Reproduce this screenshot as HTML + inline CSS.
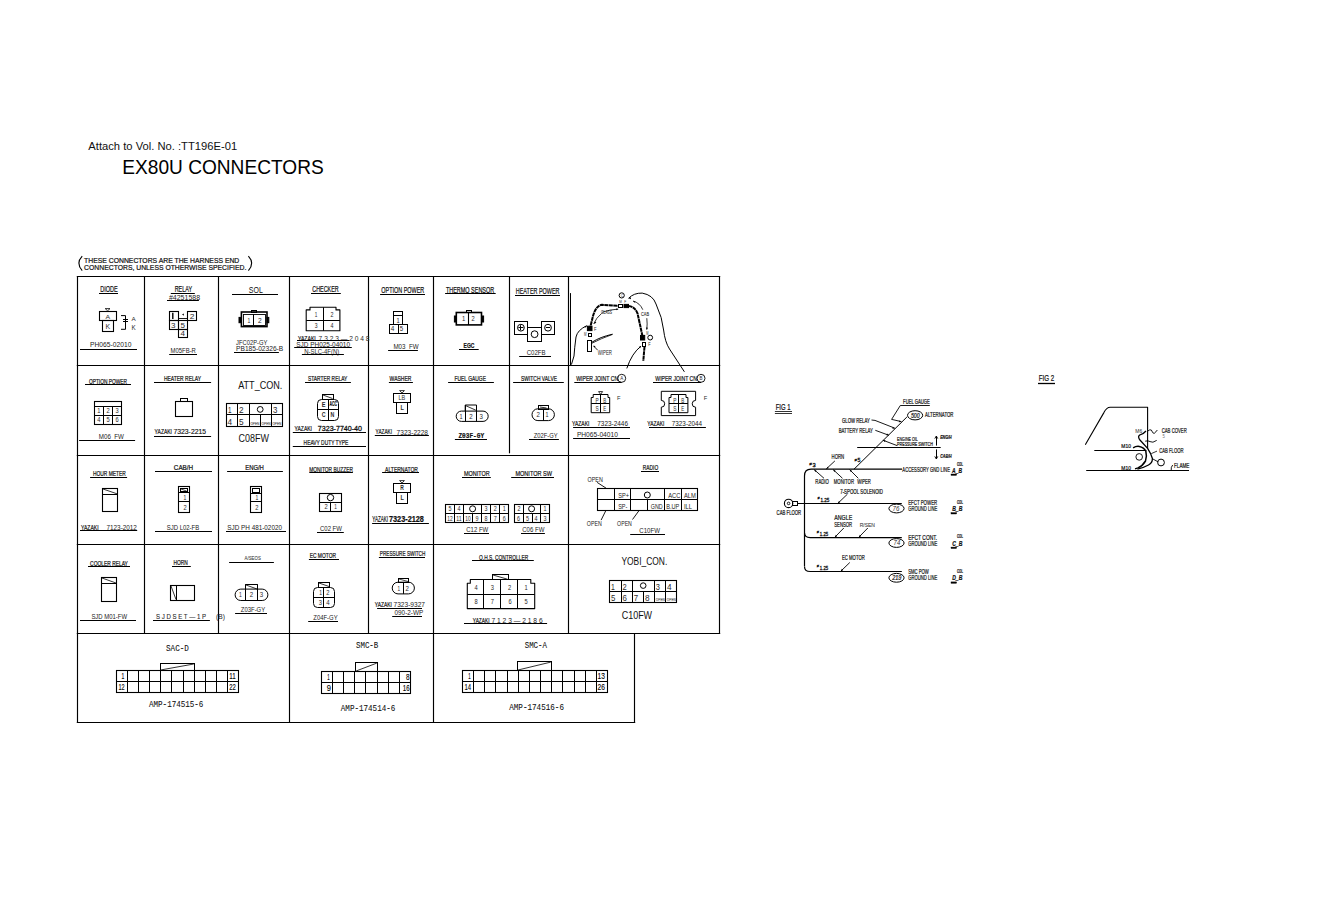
<!DOCTYPE html>
<html><head><meta charset="utf-8"><style>
html,body{margin:0;padding:0;background:#fff;width:1323px;height:917px;overflow:hidden}
svg{display:block}
</style></head><body>
<svg width="1323" height="917" viewBox="0 0 1323 917">
<rect x="0" y="0" width="1323" height="917" fill="#fff"/>
<text x="88.3" y="150.2" font-family="Liberation Sans" font-size="11.77" font-weight="normal" font-style="normal" fill="#111" textLength="148.9" lengthAdjust="spacingAndGlyphs">Attach to Vol. No. :TT196E-01</text>
<text x="122.3" y="174.4" font-family="Liberation Sans" font-size="19.62" font-weight="normal" font-style="normal" fill="#000" textLength="201.4" lengthAdjust="spacingAndGlyphs">EX80U CONNECTORS</text>
<text x="84.1" y="263.3" font-family="Liberation Sans" font-size="7.70" font-weight="normal" font-style="normal" fill="#111" stroke="#111" stroke-width="0.22" textLength="155.2" lengthAdjust="spacingAndGlyphs">THESE CONNECTORS ARE THE HARNESS END</text>
<text x="84.1" y="270.1" font-family="Liberation Sans" font-size="7.99" font-weight="normal" font-style="normal" fill="#111" stroke="#111" stroke-width="0.22" textLength="162.2" lengthAdjust="spacingAndGlyphs">CONNECTORS, UNLESS OTHERWISE SPECIFIED.</text>
<path d="M82.2,256.2 Q75.5,263.4 82.2,270.6" stroke="#000" stroke-width="1.1" fill="none" stroke-linejoin="round" />
<path d="M248.4,256.2 Q255,263.4 248.4,270.6" stroke="#000" stroke-width="1.1" fill="none" stroke-linejoin="round" />
<line x1="76.8" y1="276.5" x2="720.2" y2="276.5" stroke="#000" stroke-width="1.15"/>
<line x1="76.8" y1="365.5" x2="720.2" y2="365.5" stroke="#000" stroke-width="1.15"/>
<line x1="76.8" y1="455.5" x2="720.2" y2="455.5" stroke="#000" stroke-width="1.15"/>
<line x1="76.8" y1="544.5" x2="720.2" y2="544.5" stroke="#000" stroke-width="1.15"/>
<line x1="76.8" y1="633.5" x2="720.2" y2="633.5" stroke="#000" stroke-width="1.15"/>
<line x1="76.8" y1="722.5" x2="635.2" y2="722.5" stroke="#000" stroke-width="1.15"/>
<line x1="77.5" y1="276.5" x2="77.5" y2="722.5" stroke="#000" stroke-width="1.15"/>
<line x1="719.5" y1="276.5" x2="719.5" y2="633.5" stroke="#000" stroke-width="1.15"/>
<line x1="144.5" y1="276.5" x2="144.5" y2="633.5" stroke="#000" stroke-width="1.15"/>
<line x1="218.5" y1="276.5" x2="218.5" y2="633.5" stroke="#000" stroke-width="1.15"/>
<line x1="289.5" y1="276.5" x2="289.5" y2="633.5" stroke="#000" stroke-width="1.15"/>
<line x1="368.5" y1="276.5" x2="368.5" y2="633.5" stroke="#000" stroke-width="1.15"/>
<line x1="433.5" y1="276.5" x2="433.5" y2="633.5" stroke="#000" stroke-width="1.15"/>
<line x1="509.5" y1="276.5" x2="509.5" y2="365.5" stroke="#000" stroke-width="1.15"/>
<line x1="509.5" y1="365.5" x2="509.5" y2="453.3" stroke="#000" stroke-width="1.15"/>
<line x1="568.5" y1="276.5" x2="568.5" y2="633.5" stroke="#000" stroke-width="1.15"/>
<line x1="289.5" y1="633.5" x2="289.5" y2="722.5" stroke="#000" stroke-width="1.15"/>
<line x1="433.5" y1="633.5" x2="433.5" y2="722.5" stroke="#000" stroke-width="1.15"/>
<line x1="634.5" y1="633.5" x2="634.5" y2="722.5" stroke="#000" stroke-width="1.15"/>
<text x="100.2" y="292" font-family="Liberation Sans" font-size="8.72" font-weight="normal" font-style="normal" fill="#111" stroke="#111" stroke-width="0.22" textLength="17.6" lengthAdjust="spacingAndGlyphs">DIODE</text>
<line x1="99" y1="293.5" x2="118" y2="293.5" stroke="#000" stroke-width="1.0"/>
<rect x="99.5" y="311.5" width="17.0" height="9.0" stroke="#000" stroke-width="1.1" fill="none"/>
<rect x="102.5" y="320.5" width="11.0" height="11.0" stroke="#000" stroke-width="1.1" fill="none"/>
<path d="M105.2,308.6 L110,308.6 L107.6,310.8 Z" stroke="#000" stroke-width="0.8" fill="none" stroke-linejoin="round" />
<text x="105.6" y="319.2" font-family="Liberation Sans" font-size="6.25" font-weight="normal" font-style="normal" fill="#2a2a2a" textLength="4.6" lengthAdjust="spacingAndGlyphs">A</text>
<text x="105.6" y="328.8" font-family="Liberation Sans" font-size="6.54" font-weight="normal" font-style="normal" fill="#2a2a2a" textLength="4.6" lengthAdjust="spacingAndGlyphs">K</text>
<path d="M121,315.6 H125.5 V329.3 H121" stroke="#000" stroke-width="1.0" fill="none" stroke-linejoin="round" />
<line x1="123" y1="319.5" x2="128" y2="319.5" stroke="#000" stroke-width="1.0"/>
<line x1="123" y1="321.5" x2="128" y2="321.5" stroke="#000" stroke-width="1.0"/>
<text x="131.4" y="320.8" font-family="Liberation Sans" font-size="6.25" font-weight="normal" font-style="normal" fill="#2a2a2a" textLength="4.2" lengthAdjust="spacingAndGlyphs">A</text>
<text x="131.4" y="330" font-family="Liberation Sans" font-size="6.54" font-weight="normal" font-style="normal" fill="#2a2a2a" textLength="4.2" lengthAdjust="spacingAndGlyphs">K</text>
<text x="90" y="347.2" font-family="Liberation Sans" font-size="7.12" font-weight="normal" font-style="normal" fill="#222" textLength="41.4" lengthAdjust="spacingAndGlyphs">PH065-02010</text>
<line x1="80" y1="349.5" x2="137" y2="349.5" stroke="#000" stroke-width="1.0"/>
<text x="174.7" y="292" font-family="Liberation Sans" font-size="8.72" font-weight="normal" font-style="normal" fill="#111" stroke="#111" stroke-width="0.22" textLength="17.4" lengthAdjust="spacingAndGlyphs">RELAY</text>
<line x1="170.8" y1="293.5" x2="194.8" y2="293.5" stroke="#000" stroke-width="1.0"/>
<text x="168.9" y="299.6" font-family="Liberation Sans" font-size="6.83" font-weight="normal" font-style="normal" fill="#222" textLength="31.2" lengthAdjust="spacingAndGlyphs">#4251588</text>
<line x1="167" y1="300.5" x2="198.9" y2="300.5" stroke="#000" stroke-width="1.0"/>
<rect x="169.5" y="311.5" width="9.0" height="9.0" stroke="#000" stroke-width="1.1" fill="none"/>
<rect x="187.5" y="311.5" width="9.0" height="9.0" stroke="#000" stroke-width="1.1" fill="none"/>
<line x1="178.3" y1="318.5" x2="187.6" y2="318.5" stroke="#000" stroke-width="0.9"/>
<line x1="182" y1="314.5" x2="184" y2="314.5" stroke="#000" stroke-width="0.6"/>
<line x1="183.5" y1="313.6" x2="183.5" y2="315.6" stroke="#000" stroke-width="0.6"/>
<rect x="169.5" y="320.5" width="9.0" height="9.0" stroke="#000" stroke-width="1.1" fill="none"/>
<rect x="178.5" y="320.5" width="9.0" height="9.0" stroke="#000" stroke-width="1.1" fill="none"/>
<rect x="178.5" y="329.5" width="9.0" height="8.0" stroke="#000" stroke-width="1.1" fill="none"/>
<line x1="172.8" y1="312.8" x2="172.8" y2="319" stroke="#000" stroke-width="1.4"/>
<text x="189.8" y="318.6" font-family="Liberation Sans" font-size="7.70" font-weight="normal" font-style="normal" fill="#2a2a2a" textLength="4.7" lengthAdjust="spacingAndGlyphs">2</text>
<text x="171" y="327.6" font-family="Liberation Sans" font-size="7.70" font-weight="normal" font-style="normal" fill="#2a2a2a" textLength="4.5" lengthAdjust="spacingAndGlyphs">3</text>
<text x="180.5" y="327.6" font-family="Liberation Sans" font-size="7.70" font-weight="normal" font-style="normal" fill="#2a2a2a" textLength="4.5" lengthAdjust="spacingAndGlyphs">5</text>
<text x="180.5" y="336" font-family="Liberation Sans" font-size="7.70" font-weight="normal" font-style="normal" fill="#2a2a2a" textLength="4.5" lengthAdjust="spacingAndGlyphs">4</text>
<text x="170.6" y="353.0" font-family="Liberation Sans" font-size="6.98" font-weight="normal" font-style="normal" fill="#222" textLength="25.3" lengthAdjust="spacingAndGlyphs">M05FB-R</text>
<line x1="169.2" y1="354.5" x2="197" y2="354.5" stroke="#000" stroke-width="1.0"/>
<text x="248.8" y="292.8" font-family="Liberation Sans" font-size="9.16" font-weight="normal" font-style="normal" fill="#111" textLength="14.0" lengthAdjust="spacingAndGlyphs">SOL</text>
<line x1="232" y1="294.5" x2="278" y2="294.5" stroke="#000" stroke-width="1.0"/>
<rect x="241.4" y="312" width="25.6" height="14.6" stroke="#000" stroke-width="1.6" fill="none"/>
<rect x="243.5" y="314.5" width="22.0" height="11.0" stroke="#000" stroke-width="0.9" fill="none"/>
<line x1="253.5" y1="314.2" x2="253.5" y2="325" stroke="#000" stroke-width="1.0"/>
<rect x="239" y="317.4" width="2.4" height="5.3" stroke="#000" stroke-width="1.0" fill="#000"/>
<rect x="267" y="317.4" width="1.8" height="5.3" stroke="#000" stroke-width="1.0" fill="#000"/>
<rect x="251.5" y="310.5" width="5.0" height="2.0" stroke="#000" stroke-width="1.0" fill="none"/>
<text x="247.4" y="322.6" font-family="Liberation Sans" font-size="7.12" font-weight="normal" font-style="normal" fill="#2a2a2a" textLength="2.8" lengthAdjust="spacingAndGlyphs">1</text>
<text x="257.9" y="322.6" font-family="Liberation Sans" font-size="7.12" font-weight="normal" font-style="normal" fill="#2a2a2a" textLength="3.7" lengthAdjust="spacingAndGlyphs">2</text>
<text x="236.1" y="345.2" font-family="Liberation Sans" font-size="7.12" font-weight="normal" font-style="normal" fill="#222" textLength="31.2" lengthAdjust="spacingAndGlyphs">JFC02P-GY</text>
<text x="236.1" y="351.0" font-family="Liberation Sans" font-size="7.27" font-weight="normal" font-style="normal" fill="#222" textLength="47.1" lengthAdjust="spacingAndGlyphs">PB185-02326-B</text>
<line x1="234" y1="352.5" x2="278.9" y2="352.5" stroke="#000" stroke-width="1.0"/>
<text x="312.3" y="291.9" font-family="Liberation Sans" font-size="8.58" font-weight="normal" font-style="normal" fill="#111" stroke="#111" stroke-width="0.22" textLength="26.4" lengthAdjust="spacingAndGlyphs">CHECKER</text>
<line x1="311" y1="293.5" x2="340.8" y2="293.5" stroke="#000" stroke-width="1.0"/>
<path d="M310,307.3 H336 V309.9 H339.9 V330.8 H306.2 V309.9 H310 Z" stroke="#000" stroke-width="1.1" fill="none" stroke-linejoin="round" />
<line x1="306.2" y1="320.5" x2="339.9" y2="320.5" stroke="#000" stroke-width="1.0"/>
<line x1="323.5" y1="307.3" x2="323.5" y2="330.8" stroke="#000" stroke-width="1.0"/>
<text x="314.8" y="317.4" font-family="Liberation Sans" font-size="6.54" font-weight="normal" font-style="normal" fill="#2a2a2a" textLength="2.6" lengthAdjust="spacingAndGlyphs">1</text>
<text x="330.4" y="317.4" font-family="Liberation Sans" font-size="6.54" font-weight="normal" font-style="normal" fill="#2a2a2a" textLength="3.0" lengthAdjust="spacingAndGlyphs">2</text>
<text x="314.8" y="328.2" font-family="Liberation Sans" font-size="6.54" font-weight="normal" font-style="normal" fill="#2a2a2a" textLength="2.8" lengthAdjust="spacingAndGlyphs">3</text>
<text x="330.4" y="328.2" font-family="Liberation Sans" font-size="6.54" font-weight="normal" font-style="normal" fill="#2a2a2a" textLength="3.0" lengthAdjust="spacingAndGlyphs">4</text>
<text x="297.9" y="340.6" font-family="Liberation Sans" font-size="7.12" font-weight="normal" font-style="normal" fill="#111" stroke="#111" stroke-width="0.22" textLength="17.9" lengthAdjust="spacingAndGlyphs">YAZAKI</text>
<text x="318.6" y="340.6" font-family="Liberation Sans" font-size="7.12" font-weight="normal" font-style="normal" fill="#2a2a2a" textLength="50.9" lengthAdjust="spacingAndGlyphs">7 3 2 3 — 2 0 4 8</text>
<line x1="297" y1="340.5" x2="349.5" y2="340.5" stroke="#000" stroke-width="1.0"/>
<text x="296.2" y="347.4" font-family="Liberation Sans" font-size="6.98" font-weight="normal" font-style="normal" fill="#222" textLength="53.8" lengthAdjust="spacingAndGlyphs">SJD PH025-04010</text>
<line x1="294.2" y1="347.5" x2="351.8" y2="347.5" stroke="#000" stroke-width="1.0"/>
<text x="304.2" y="354.2" font-family="Liberation Sans" font-size="7.27" font-weight="normal" font-style="normal" fill="#222" textLength="35.1" lengthAdjust="spacingAndGlyphs">N-SLC-4F(N)</text>
<line x1="301.9" y1="354.5" x2="343.9" y2="354.5" stroke="#000" stroke-width="1.0"/>
<text x="381.3" y="293" font-family="Liberation Sans" font-size="8.72" font-weight="normal" font-style="normal" fill="#111" stroke="#111" stroke-width="0.22" textLength="42.9" lengthAdjust="spacingAndGlyphs">OPTION POWER</text>
<line x1="380.1" y1="294.5" x2="425" y2="294.5" stroke="#000" stroke-width="1.0"/>
<rect x="393.5" y="311.5" width="9.0" height="4.0" stroke="#000" stroke-width="1.0" fill="none"/>
<rect x="393.5" y="315.5" width="9.0" height="9.0" stroke="#000" stroke-width="1.0" fill="none"/>
<rect x="389.5" y="324.5" width="18.0" height="9.0" stroke="#000" stroke-width="1.0" fill="none"/>
<line x1="398.5" y1="324.4" x2="398.5" y2="333.4" stroke="#000" stroke-width="1.0"/>
<text x="396.4" y="322.6" font-family="Liberation Sans" font-size="7.12" font-weight="normal" font-style="normal" fill="#2a2a2a" textLength="3.2" lengthAdjust="spacingAndGlyphs">1</text>
<text x="390.8" y="331.2" font-family="Liberation Sans" font-size="6.83" font-weight="normal" font-style="normal" fill="#2a2a2a" textLength="3.6" lengthAdjust="spacingAndGlyphs">4</text>
<text x="399.8" y="331.2" font-family="Liberation Sans" font-size="6.83" font-weight="normal" font-style="normal" fill="#2a2a2a" textLength="3.4" lengthAdjust="spacingAndGlyphs">5</text>
<text x="393.4" y="348.6" font-family="Liberation Sans" font-size="7.12" font-weight="normal" font-style="normal" fill="#222" textLength="25.2" lengthAdjust="spacingAndGlyphs">M03_FW</text>
<line x1="388.1" y1="350.5" x2="417.9" y2="350.5" stroke="#000" stroke-width="1.0"/>
<text x="445.9" y="292.6" font-family="Liberation Sans" font-size="8.14" font-weight="normal" font-style="normal" fill="#111" stroke="#111" stroke-width="0.22" textLength="48.3" lengthAdjust="spacingAndGlyphs">THERMO SENSOR</text>
<line x1="445.1" y1="293.5" x2="495.7" y2="293.5" stroke="#000" stroke-width="1.0"/>
<rect x="456.3" y="312.5" width="25.2" height="12.4" stroke="#000" stroke-width="1.6" fill="none"/>
<line x1="468.5" y1="312.5" x2="468.5" y2="325" stroke="#000" stroke-width="1.1"/>
<rect x="454.4" y="316" width="2" height="6" stroke="#000" stroke-width="1.0" fill="#000"/>
<rect x="481.6" y="316" width="2" height="6" stroke="#000" stroke-width="1.0" fill="#000"/>
<rect x="466.5" y="310.5" width="5.0" height="2.0" stroke="#000" stroke-width="1.0" fill="none"/>
<text x="462" y="320.6" font-family="Liberation Sans" font-size="7.41" font-weight="normal" font-style="normal" fill="#2a2a2a" textLength="3.3" lengthAdjust="spacingAndGlyphs">1</text>
<text x="471.4" y="320.6" font-family="Liberation Sans" font-size="7.41" font-weight="normal" font-style="normal" fill="#2a2a2a" textLength="3.2" lengthAdjust="spacingAndGlyphs">2</text>
<text x="463.6" y="347.9" font-family="Liberation Sans" font-size="7.70" font-weight="bold" font-style="normal" fill="#111" stroke="#111" stroke-width="0.22" textLength="10.8" lengthAdjust="spacingAndGlyphs">EGC</text>
<line x1="459" y1="349.5" x2="478.7" y2="349.5" stroke="#000" stroke-width="1.0"/>
<text x="515.8" y="293.7" font-family="Liberation Sans" font-size="8.72" font-weight="normal" font-style="normal" fill="#111" stroke="#111" stroke-width="0.22" textLength="43.7" lengthAdjust="spacingAndGlyphs">HEATER POWER</text>
<line x1="515" y1="295.5" x2="560" y2="295.5" stroke="#000" stroke-width="1.0"/>
<rect x="514.5" y="321.5" width="13.0" height="13.0" stroke="#000" stroke-width="1.0" fill="none"/>
<rect x="527.5" y="327.5" width="14.0" height="14.0" stroke="#000" stroke-width="1.0" fill="none"/>
<rect x="541.5" y="321.5" width="13.0" height="13.0" stroke="#000" stroke-width="1.0" fill="none"/>
<circle cx="520.9" cy="327.7" r="3.4" stroke="#000" stroke-width="1.0" fill="none"/>
<line x1="518.4" y1="327.5" x2="523.4" y2="327.5" stroke="#000" stroke-width="1.0"/>
<line x1="520.5" y1="325.2" x2="520.5" y2="330.2" stroke="#000" stroke-width="1.0"/>
<circle cx="534.6" cy="334.2" r="3.4" stroke="#000" stroke-width="1.0" fill="none"/>
<circle cx="548" cy="327.7" r="3.4" stroke="#000" stroke-width="1.0" fill="none"/>
<line x1="545.8" y1="327.5" x2="550.2" y2="327.5" stroke="#000" stroke-width="1.0"/>
<text x="526.7" y="355.4" font-family="Liberation Sans" font-size="7.12" font-weight="normal" font-style="normal" fill="#222" textLength="18.9" lengthAdjust="spacingAndGlyphs">C02FB</text>
<line x1="519.2" y1="356.5" x2="551" y2="356.5" stroke="#000" stroke-width="1.0"/>
<line x1="570.5" y1="293.1" x2="570.5" y2="365" stroke="#000" stroke-width="1.0"/>
<path d="M589.7,329.6 L593,316 Q596,305.5 602,304.8 L618.2,305.9" stroke="#000" stroke-width="2.0" fill="none" stroke-linejoin="round" stroke-dasharray="4,0.5"/>
<path d="M628.5,305.9 Q635,306.5 637.6,313.7 L642.8,337.6" stroke="#000" stroke-width="2.0" fill="none" stroke-linejoin="round" stroke-dasharray="4,0.5"/>
<path d="M644.5,346.8 L643.3,361" stroke="#000" stroke-width="2.0" fill="none" stroke-linejoin="round" stroke-dasharray="4,0.5"/>
<path d="M628.50,298.30 L630.86,297.20 L630.94,299.20 Z" fill="#000"/>
<path d="M594.20,324.00 L594.77,321.46 L596.40,322.62 Z" fill="#000"/>
<path d="M618.40,309.00 L616.37,310.23 L616.09,308.45 Z" fill="#000"/>
<path d="M633.00,301.20 L635.38,301.18 L634.71,302.85 Z" fill="#000"/>
<path d="M646.80,329.80 L645.91,327.55 L647.91,327.65 Z" fill="#000"/>
<path d="M586.80,325.70 L585.68,327.84 L584.45,326.26 Z" fill="#000"/>
<path d="M641.20,346.20 L640.01,348.31 L638.83,346.69 Z" fill="#000"/>
<path d="M593.40,345.60 L595.52,346.17 L594.38,347.56 Z" fill="#000"/>
<path d="M592,343.2 Q601,338.5 612.5,334.4" stroke="#000" stroke-width="0.8" fill="none" stroke-linejoin="round" />
<rect x="618.5" y="304.5" width="4.0" height="3.0" stroke="#000" stroke-width="1.0" fill="none"/>
<rect x="624" y="304.4" width="4.5" height="3.2" stroke="#000" stroke-width="1.0" fill="#000"/>
<circle cx="621.7" cy="295.4" r="2.6" stroke="#000" stroke-width="1.0" fill="none"/>
<text x="620.7" y="296.8" font-family="Liberation Sans" font-size="4.22" font-weight="normal" font-style="normal" fill="#2a2a2a" textLength="2.2" lengthAdjust="spacingAndGlyphs">C</text>
<text x="619.2" y="303" font-family="Liberation Sans" font-size="4.36" font-weight="normal" font-style="normal" fill="#2a2a2a" textLength="2.6" lengthAdjust="spacingAndGlyphs">M</text>
<text x="624.2" y="303" font-family="Liberation Sans" font-size="4.36" font-weight="normal" font-style="normal" fill="#2a2a2a" textLength="2.0" lengthAdjust="spacingAndGlyphs">F</text>
<rect x="587.4" y="326.2" width="4.6" height="4.4" stroke="#000" stroke-width="1.0" fill="#000"/>
<rect x="588.5" y="333.5" width="3.0" height="3.0" stroke="#000" stroke-width="1.0" fill="none"/>
<rect x="587.5" y="340.5" width="4.0" height="11.0" stroke="#000" stroke-width="1.0" fill="none"/>
<text x="594" y="330.5" font-family="Liberation Sans" font-size="5.52" font-weight="normal" font-style="normal" fill="#2a2a2a" textLength="2.5" lengthAdjust="spacingAndGlyphs">F</text>
<text x="584" y="336.2" font-family="Liberation Sans" font-size="4.80" font-weight="normal" font-style="normal" fill="#2a2a2a" textLength="2.5" lengthAdjust="spacingAndGlyphs">M</text>
<path d="M592,342.2 Q600,337 612.5,334.2" stroke="#000" stroke-width="1.0" fill="none" stroke-linejoin="round" />
<text x="597.7" y="354.8" font-family="Liberation Sans" font-size="6.83" font-weight="normal" font-style="normal" fill="#222" textLength="14.3" lengthAdjust="spacingAndGlyphs">WIPER</text>
<path d="M597.5,350 L593.6,346" stroke="#000" stroke-width="0.9" fill="none" stroke-linejoin="round" />
<text x="601" y="314.2" font-family="Liberation Sans" font-size="5.38" font-weight="normal" font-style="normal" fill="#2a2a2a" stroke="#2a2a2a" stroke-width="0.1" textLength="11.0" lengthAdjust="spacingAndGlyphs">GLASS</text>
<path d="M602.2,312.2 Q610,309.5 618.2,309.1" stroke="#000" stroke-width="0.8" fill="none" stroke-linejoin="round" />
<path d="M601.5,313.5 Q596,318 593.7,324" stroke="#000" stroke-width="0.8" fill="none" stroke-linejoin="round" />
<text x="641" y="316.2" font-family="Liberation Sans" font-size="5.81" font-weight="normal" font-style="normal" fill="#2a2a2a" stroke="#2a2a2a" stroke-width="0.1" textLength="8.0" lengthAdjust="spacingAndGlyphs">CAB</text>
<path d="M642.8,309.7 Q640,303 633,301" stroke="#000" stroke-width="0.8" fill="none" stroke-linejoin="round" />
<path d="M646.8,318.2 Q647.5,324 646.8,329.6" stroke="#000" stroke-width="0.8" fill="none" stroke-linejoin="round" />
<rect x="640.5" y="335.4" width="4.2" height="4.6" stroke="#000" stroke-width="1.0" fill="#000"/>
<rect x="642.5" y="342.5" width="3.0" height="4.0" stroke="#000" stroke-width="1.0" fill="none"/>
<circle cx="650.2" cy="337.6" r="2.4" stroke="#000" stroke-width="1.0" fill="none"/>
<text x="646.2" y="335.4" font-family="Liberation Sans" font-size="4.65" font-weight="normal" font-style="normal" fill="#2a2a2a" textLength="2.2" lengthAdjust="spacingAndGlyphs">M</text>
<text x="648.2" y="346.2" font-family="Liberation Sans" font-size="5.67" font-weight="normal" font-style="normal" fill="#2a2a2a" textLength="2.4" lengthAdjust="spacingAndGlyphs">F</text>
<path d="M628.5,298.3 Q634,292.8 642.2,293.1 Q653,295 656,304 Q662.5,318 663.6,330 Q665,342 669.5,349 L684.4,371.8" stroke="#000" stroke-width="1.0" fill="none" stroke-linejoin="round" />
<path d="M586.8,325.7 Q577.5,330 576,337 Q574.5,348 574,356 L571.4,364.6" stroke="#000" stroke-width="1.0" fill="none" stroke-linejoin="round" />
<path d="M626.8,368.4 Q632,353 641,346.2" stroke="#000" stroke-width="1.0" fill="none" stroke-linejoin="round" />
<text x="88.9" y="384" font-family="Liberation Sans" font-size="7.41" font-weight="normal" font-style="normal" fill="#111" stroke="#111" stroke-width="0.22" textLength="38.2" lengthAdjust="spacingAndGlyphs">OPTION POWER</text>
<line x1="85" y1="384.5" x2="131" y2="384.5" stroke="#000" stroke-width="1.0"/>
<rect x="94.5" y="401.5" width="27.0" height="23.0" stroke="#000" stroke-width="1.1" fill="none"/>
<line x1="94.3" y1="406.5" x2="121.8" y2="406.5" stroke="#000" stroke-width="1.0"/>
<line x1="94.3" y1="415.5" x2="121.8" y2="415.5" stroke="#000" stroke-width="1.0"/>
<line x1="103.5" y1="406.6" x2="103.5" y2="424.5" stroke="#000" stroke-width="1.0"/>
<line x1="112.5" y1="406.6" x2="112.5" y2="424.5" stroke="#000" stroke-width="1.0"/>
<text x="97.2" y="413.4" font-family="Liberation Sans" font-size="6.98" font-weight="normal" font-style="normal" fill="#2a2a2a" textLength="3.2" lengthAdjust="spacingAndGlyphs">1</text>
<text x="106.4" y="413.4" font-family="Liberation Sans" font-size="6.98" font-weight="normal" font-style="normal" fill="#2a2a2a" textLength="3.2" lengthAdjust="spacingAndGlyphs">2</text>
<text x="115.6" y="413.4" font-family="Liberation Sans" font-size="6.98" font-weight="normal" font-style="normal" fill="#2a2a2a" textLength="3.2" lengthAdjust="spacingAndGlyphs">3</text>
<text x="97.2" y="422.2" font-family="Liberation Sans" font-size="7.12" font-weight="normal" font-style="normal" fill="#2a2a2a" textLength="3.2" lengthAdjust="spacingAndGlyphs">4</text>
<text x="106.4" y="422.2" font-family="Liberation Sans" font-size="7.12" font-weight="normal" font-style="normal" fill="#2a2a2a" textLength="3.2" lengthAdjust="spacingAndGlyphs">5</text>
<text x="115.6" y="422.2" font-family="Liberation Sans" font-size="7.12" font-weight="normal" font-style="normal" fill="#2a2a2a" textLength="3.2" lengthAdjust="spacingAndGlyphs">6</text>
<text x="98.8" y="438.6" font-family="Liberation Sans" font-size="6.83" font-weight="normal" font-style="normal" fill="#222" textLength="25.1" lengthAdjust="spacingAndGlyphs">M06_FW</text>
<line x1="79.1" y1="440.5" x2="135.1" y2="440.5" stroke="#000" stroke-width="1.0"/>
<text x="163.9" y="381" font-family="Liberation Sans" font-size="7.12" font-weight="normal" font-style="normal" fill="#111" stroke="#111" stroke-width="0.22" textLength="37.1" lengthAdjust="spacingAndGlyphs">HEATER RELAY</text>
<line x1="154" y1="382.5" x2="211.1" y2="382.5" stroke="#000" stroke-width="1.0"/>
<rect x="175.5" y="401.5" width="17.0" height="15.0" stroke="#000" stroke-width="1.1" fill="none"/>
<rect x="180.5" y="398.5" width="7.0" height="3.0" stroke="#000" stroke-width="1.0" fill="none"/>
<text x="154.6" y="434.3" font-family="Liberation Sans" font-size="7.85" font-weight="normal" font-style="normal" fill="#111" stroke="#111" stroke-width="0.22" textLength="17.4" lengthAdjust="spacingAndGlyphs">YAZAKI</text>
<text x="173.5" y="434.3" font-family="Liberation Sans" font-size="7.85" font-weight="normal" font-style="normal" fill="#111" stroke="#111" stroke-width="0.15" textLength="32.5" lengthAdjust="spacingAndGlyphs">7323-2215</text>
<line x1="154" y1="436.5" x2="211.1" y2="436.5" stroke="#000" stroke-width="1.0"/>
<text x="238.2" y="389" font-family="Liberation Sans" font-size="10.32" font-weight="normal" font-style="normal" fill="#111" textLength="44.2" lengthAdjust="spacingAndGlyphs">ATT_CON.</text>
<rect x="226.5" y="403.5" width="56.0" height="23.0" stroke="#000" stroke-width="1.1" fill="none"/>
<line x1="226.2" y1="414.5" x2="282.6" y2="414.5" stroke="#000" stroke-width="1.0"/>
<line x1="237.5" y1="403.3" x2="237.5" y2="426.6" stroke="#000" stroke-width="1.0"/>
<line x1="249.5" y1="403.3" x2="249.5" y2="426.6" stroke="#000" stroke-width="1.0"/>
<line x1="271.5" y1="403.3" x2="271.5" y2="426.6" stroke="#000" stroke-width="1.0"/>
<line x1="260.5" y1="414.5" x2="260.5" y2="426.6" stroke="#000" stroke-width="1.0"/>
<text x="227.9" y="413.2" font-family="Liberation Sans" font-size="9.74" font-weight="normal" font-style="normal" fill="#2a2a2a" textLength="3.5" lengthAdjust="spacingAndGlyphs">1</text>
<text x="239" y="413.2" font-family="Liberation Sans" font-size="9.74" font-weight="normal" font-style="normal" fill="#2a2a2a" textLength="4.6" lengthAdjust="spacingAndGlyphs">2</text>
<text x="273" y="413.2" font-family="Liberation Sans" font-size="9.74" font-weight="normal" font-style="normal" fill="#2a2a2a" textLength="4.4" lengthAdjust="spacingAndGlyphs">3</text>
<text x="227.6" y="424.6" font-family="Liberation Sans" font-size="9.74" font-weight="normal" font-style="normal" fill="#2a2a2a" textLength="4.6" lengthAdjust="spacingAndGlyphs">4</text>
<text x="239" y="424.6" font-family="Liberation Sans" font-size="9.74" font-weight="normal" font-style="normal" fill="#2a2a2a" textLength="4.6" lengthAdjust="spacingAndGlyphs">5</text>
<circle cx="260.2" cy="409.4" r="2.9" stroke="#000" stroke-width="1.0" fill="none"/>
<text x="250.4" y="424.8" font-family="Liberation Sans" font-size="4.22" font-weight="normal" font-style="normal" fill="#444" stroke="#444" stroke-width="0.1" textLength="9.0" lengthAdjust="spacingAndGlyphs">OPEN</text>
<text x="261.6" y="424.8" font-family="Liberation Sans" font-size="4.22" font-weight="normal" font-style="normal" fill="#444" stroke="#444" stroke-width="0.1" textLength="9.0" lengthAdjust="spacingAndGlyphs">OPEN</text>
<text x="272.4" y="424.8" font-family="Liberation Sans" font-size="4.22" font-weight="normal" font-style="normal" fill="#444" stroke="#444" stroke-width="0.1" textLength="9.0" lengthAdjust="spacingAndGlyphs">OPEN</text>
<text x="238.6" y="442.1" font-family="Liberation Sans" font-size="10.03" font-weight="normal" font-style="normal" fill="#111" textLength="30.4" lengthAdjust="spacingAndGlyphs">C08FW</text>
<text x="307.9" y="380.9" font-family="Liberation Sans" font-size="7.12" font-weight="normal" font-style="normal" fill="#111" stroke="#111" stroke-width="0.22" textLength="39.4" lengthAdjust="spacingAndGlyphs">STARTER RELAY</text>
<line x1="305" y1="382.5" x2="350.9" y2="382.5" stroke="#000" stroke-width="1.0"/>
<rect x="317.5" y="399.5" width="21.0" height="21.0" stroke="#000" stroke-width="1.0" fill="none" rx="4"/>
<rect x="322.5" y="394.5" width="11.0" height="5.0" stroke="#000" stroke-width="1.0" fill="none"/>
<line x1="323" y1="395" x2="332.5" y2="398.5" stroke="#000" stroke-width="0.8"/>
<line x1="328.5" y1="399" x2="328.5" y2="420" stroke="#000" stroke-width="1.0"/>
<line x1="317.8" y1="409.5" x2="338.7" y2="409.5" stroke="#000" stroke-width="1.0"/>
<text x="321.8" y="406.6" font-family="Liberation Sans" font-size="7.70" font-weight="bold" font-style="normal" fill="#2a2a2a" textLength="3.8" lengthAdjust="spacingAndGlyphs">E</text>
<text x="329.6" y="406.4" font-family="Liberation Sans" font-size="6.54" font-weight="bold" font-style="normal" fill="#111" stroke="#111" stroke-width="0.22" textLength="7.4" lengthAdjust="spacingAndGlyphs">ACC</text>
<text x="321.8" y="416.6" font-family="Liberation Sans" font-size="7.70" font-weight="bold" font-style="normal" fill="#2a2a2a" textLength="3.8" lengthAdjust="spacingAndGlyphs">C</text>
<text x="330.6" y="416.6" font-family="Liberation Sans" font-size="7.70" font-weight="bold" font-style="normal" fill="#2a2a2a" textLength="3.8" lengthAdjust="spacingAndGlyphs">N</text>
<text x="294.5" y="430.8" font-family="Liberation Sans" font-size="7.56" font-weight="normal" font-style="normal" fill="#111" stroke="#111" stroke-width="0.22" textLength="17.5" lengthAdjust="spacingAndGlyphs">YAZAKI</text>
<text x="317.8" y="430.8" font-family="Liberation Sans" font-size="7.85" font-weight="normal" font-style="normal" fill="#111" stroke="#111" stroke-width="0.3" textLength="44.2" lengthAdjust="spacingAndGlyphs">7323-7740-40</text>
<line x1="292.8" y1="432.5" x2="366" y2="432.5" stroke="#000" stroke-width="1.0"/>
<text x="303.6" y="444.9" font-family="Liberation Sans" font-size="7.56" font-weight="normal" font-style="normal" fill="#111" stroke="#111" stroke-width="0.22" textLength="44.8" lengthAdjust="spacingAndGlyphs">HEAVY DUTY TYPE</text>
<line x1="292.8" y1="446.5" x2="366" y2="446.5" stroke="#000" stroke-width="1.0"/>
<text x="389.6" y="380.9" font-family="Liberation Sans" font-size="6.83" font-weight="normal" font-style="normal" fill="#111" stroke="#111" stroke-width="0.22" textLength="21.8" lengthAdjust="spacingAndGlyphs">WASHER</text>
<line x1="388.9" y1="382.5" x2="412.9" y2="382.5" stroke="#000" stroke-width="1.0"/>
<rect x="393.5" y="393.5" width="17.0" height="9.0" stroke="#000" stroke-width="1.0" fill="none"/>
<rect x="396.5" y="402.5" width="11.0" height="11.0" stroke="#000" stroke-width="1.0" fill="none"/>
<path d="M399.6,390.6 L404.4,390.6 L402.0,393.1 Z" stroke="#000" stroke-width="0.8" fill="none" stroke-linejoin="round" />
<text x="398.4" y="400.4" font-family="Liberation Sans" font-size="7.12" font-weight="normal" font-style="normal" fill="#2a2a2a" textLength="6.8" lengthAdjust="spacingAndGlyphs">LB</text>
<text x="400.4" y="410.2" font-family="Liberation Sans" font-size="7.12" font-weight="bold" font-style="normal" fill="#2a2a2a" textLength="3.4" lengthAdjust="spacingAndGlyphs">L</text>
<text x="375.6" y="434.4" font-family="Liberation Sans" font-size="7.99" font-weight="normal" font-style="normal" fill="#111" stroke="#111" stroke-width="0.22" textLength="16.4" lengthAdjust="spacingAndGlyphs">YAZAKI</text>
<text x="396.6" y="435" font-family="Liberation Sans" font-size="7.70" font-weight="normal" font-style="normal" fill="#222" textLength="31.4" lengthAdjust="spacingAndGlyphs">7323-2228</text>
<line x1="374.8" y1="435.5" x2="428.9" y2="435.5" stroke="#000" stroke-width="1.0"/>
<text x="454.6" y="380.9" font-family="Liberation Sans" font-size="7.27" font-weight="normal" font-style="normal" fill="#111" stroke="#111" stroke-width="0.22" textLength="31.3" lengthAdjust="spacingAndGlyphs">FUEL GAUGE</text>
<line x1="448.1" y1="382.5" x2="493.9" y2="382.5" stroke="#000" stroke-width="1.0"/>
<path d="M461.34999999999997,411.1 L483.05,411.1 A5.149999999999977,5.149999999999977 0 0 1 483.05,421.4 L461.34999999999997,421.4 A5.149999999999977,5.149999999999977 0 0 1 461.34999999999997,411.1 Z" stroke="#000" stroke-width="1.0" fill="none" stroke-linejoin="round" />
<line x1="465.5" y1="405" x2="465.5" y2="421.4" stroke="#000" stroke-width="1.0"/>
<line x1="476.5" y1="405" x2="476.5" y2="421.4" stroke="#000" stroke-width="1.0"/>
<path d="M465.2,411.1 V405 H476.5 V411.1" stroke="#000" stroke-width="1.0" fill="none" stroke-linejoin="round" />
<line x1="466" y1="405.8" x2="475.8" y2="410.2" stroke="#000" stroke-width="0.8"/>
<text x="459.5" y="418.8" font-family="Liberation Sans" font-size="7.41" font-weight="normal" font-style="normal" fill="#2a2a2a" textLength="3.1" lengthAdjust="spacingAndGlyphs">1</text>
<text x="469.2" y="418.8" font-family="Liberation Sans" font-size="7.41" font-weight="normal" font-style="normal" fill="#2a2a2a" textLength="3.4" lengthAdjust="spacingAndGlyphs">2</text>
<text x="479.4" y="418.8" font-family="Liberation Sans" font-size="7.41" font-weight="normal" font-style="normal" fill="#2a2a2a" textLength="3.4" lengthAdjust="spacingAndGlyphs">3</text>
<text x="458.4" y="437.6" font-family="Liberation Mono" font-size="7.99" font-weight="bold" font-style="normal" fill="#111" stroke="#111" stroke-width="0.22" textLength="25.7" lengthAdjust="spacingAndGlyphs">Z03F-GY</text>
<line x1="454.9" y1="439.5" x2="487" y2="439.5" stroke="#000" stroke-width="1.0"/>
<text x="521" y="380.9" font-family="Liberation Sans" font-size="7.27" font-weight="normal" font-style="normal" fill="#111" stroke="#111" stroke-width="0.22" textLength="36.0" lengthAdjust="spacingAndGlyphs">SWITCH VALVE</text>
<line x1="513.1" y1="382.5" x2="563.8" y2="382.5" stroke="#000" stroke-width="1.0"/>
<path d="M537.9,408.8 L548.5,408.8 A5.900000000000006,5.900000000000006 0 0 1 548.5,420.6 L537.9,420.6 A5.900000000000006,5.900000000000006 0 0 1 537.9,408.8 Z" stroke="#000" stroke-width="1.0" fill="none" stroke-linejoin="round" />
<rect x="538.5" y="405.5" width="10.0" height="4.0" stroke="#000" stroke-width="1.0" fill="none"/>
<line x1="543.5" y1="409" x2="543.5" y2="420.6" stroke="#000" stroke-width="1.0"/>
<line x1="540" y1="407" x2="546.5" y2="408" stroke="#000" stroke-width="0.8"/>
<text x="536.6" y="417.4" font-family="Liberation Sans" font-size="7.99" font-weight="normal" font-style="normal" fill="#2a2a2a" textLength="3.4" lengthAdjust="spacingAndGlyphs">2</text>
<text x="545.6" y="417.4" font-family="Liberation Sans" font-size="7.99" font-weight="normal" font-style="normal" fill="#2a2a2a" textLength="3.0" lengthAdjust="spacingAndGlyphs">1</text>
<text x="533.8" y="438.4" font-family="Liberation Sans" font-size="6.83" font-weight="normal" font-style="normal" fill="#222" textLength="23.9" lengthAdjust="spacingAndGlyphs">Z02F-GY</text>
<line x1="529" y1="439.5" x2="558.9" y2="439.5" stroke="#000" stroke-width="1.0"/>
<text x="576.2" y="381" font-family="Liberation Sans" font-size="7.70" font-weight="normal" font-style="normal" fill="#111" stroke="#111" stroke-width="0.22" textLength="42.0" lengthAdjust="spacingAndGlyphs">WIPER JOINT CN</text>
<circle cx="621.7" cy="378.3" r="4.0" stroke="#000" stroke-width="0.9" fill="none"/>
<text x="620.3" y="379.8" font-family="Liberation Sans" font-size="5.23" font-weight="normal" font-style="normal" fill="#2a2a2a" textLength="3.0" lengthAdjust="spacingAndGlyphs">A</text>
<line x1="574.3" y1="382.5" x2="621.7" y2="382.5" stroke="#000" stroke-width="1.0"/>
<path d="M593.2,394.5 H608 V397.5 H609.7 V412.7 H591.2 V397.5 H593.2 Z" stroke="#000" stroke-width="1.0" fill="none" stroke-linejoin="round" />
<line x1="591.2" y1="403.5" x2="609.7" y2="403.5" stroke="#000" stroke-width="1.0"/>
<line x1="600.5" y1="394.5" x2="600.5" y2="412.7" stroke="#000" stroke-width="1.0"/>
<path d="M598.6,391.6 L602.6,391.6 L600.6,394.4 Z" stroke="#000" stroke-width="0.8" fill="none" stroke-linejoin="round" />
<text x="595.4" y="402.6" font-family="Liberation Sans" font-size="6.83" font-weight="normal" font-style="normal" fill="#2a2a2a" textLength="3.2" lengthAdjust="spacingAndGlyphs">P</text>
<text x="603.2" y="402.6" font-family="Liberation Sans" font-size="6.83" font-weight="normal" font-style="normal" fill="#2a2a2a" textLength="3.0" lengthAdjust="spacingAndGlyphs">B</text>
<text x="595.4" y="411.2" font-family="Liberation Sans" font-size="7.41" font-weight="normal" font-style="normal" fill="#2a2a2a" textLength="3.2" lengthAdjust="spacingAndGlyphs">S</text>
<text x="603.2" y="411.2" font-family="Liberation Sans" font-size="7.41" font-weight="normal" font-style="normal" fill="#2a2a2a" textLength="3.0" lengthAdjust="spacingAndGlyphs">E</text>
<text x="617" y="399.8" font-family="Liberation Sans" font-size="6.25" font-weight="normal" font-style="normal" fill="#2a2a2a" textLength="3.5" lengthAdjust="spacingAndGlyphs">F</text>
<text x="572" y="425.6" font-family="Liberation Sans" font-size="7.70" font-weight="normal" font-style="normal" fill="#111" stroke="#111" stroke-width="0.22" textLength="17.4" lengthAdjust="spacingAndGlyphs">YAZAKI</text>
<text x="597.3" y="425.5" font-family="Liberation Sans" font-size="7.85" font-weight="normal" font-style="normal" fill="#222" textLength="30.7" lengthAdjust="spacingAndGlyphs">7323-2446</text>
<line x1="573.1" y1="427.5" x2="630" y2="427.5" stroke="#000" stroke-width="1.0"/>
<text x="576.9" y="436.7" font-family="Liberation Sans" font-size="7.56" font-weight="normal" font-style="normal" fill="#222" textLength="41.0" lengthAdjust="spacingAndGlyphs">PH065-04010</text>
<line x1="573.1" y1="438.5" x2="630" y2="438.5" stroke="#000" stroke-width="1.0"/>
<text x="655.3" y="381" font-family="Liberation Sans" font-size="7.70" font-weight="normal" font-style="normal" fill="#111" stroke="#111" stroke-width="0.22" textLength="41.7" lengthAdjust="spacingAndGlyphs">WIPER JOINT CN</text>
<circle cx="701" cy="378.3" r="4.0" stroke="#000" stroke-width="0.9" fill="none"/>
<text x="699.6" y="379.8" font-family="Liberation Sans" font-size="5.23" font-weight="normal" font-style="normal" fill="#2a2a2a" textLength="3.0" lengthAdjust="spacingAndGlyphs">B</text>
<line x1="653" y1="382.5" x2="701" y2="382.5" stroke="#000" stroke-width="1.0"/>
<path d="M661.3,391.3 H695.6 V400.4 A3.4,3.4 0 0 0 695.6,407.2 V415.6 H661.3 V407.2 A3.4,3.4 0 0 0 661.3,400.4 Z" stroke="#000" stroke-width="1.0" fill="none" stroke-linejoin="round" />
<path d="M671,394.5 H686 V397.5 H687.9 V412.7 H669 V397.5 H671 Z" stroke="#000" stroke-width="1.0" fill="none" stroke-linejoin="round" />
<line x1="669" y1="403.5" x2="687.9" y2="403.5" stroke="#000" stroke-width="1.0"/>
<line x1="678.5" y1="394.5" x2="678.5" y2="412.7" stroke="#000" stroke-width="1.0"/>
<text x="673.2" y="402.6" font-family="Liberation Sans" font-size="6.83" font-weight="normal" font-style="normal" fill="#2a2a2a" textLength="3.2" lengthAdjust="spacingAndGlyphs">P</text>
<text x="681.2" y="402.6" font-family="Liberation Sans" font-size="6.83" font-weight="normal" font-style="normal" fill="#2a2a2a" textLength="3.0" lengthAdjust="spacingAndGlyphs">B</text>
<text x="673.2" y="411.2" font-family="Liberation Sans" font-size="7.41" font-weight="normal" font-style="normal" fill="#2a2a2a" textLength="3.2" lengthAdjust="spacingAndGlyphs">S</text>
<text x="681.2" y="411.2" font-family="Liberation Sans" font-size="7.41" font-weight="normal" font-style="normal" fill="#2a2a2a" textLength="3.0" lengthAdjust="spacingAndGlyphs">E</text>
<text x="703.8" y="399.8" font-family="Liberation Sans" font-size="6.25" font-weight="normal" font-style="normal" fill="#2a2a2a" textLength="3.5" lengthAdjust="spacingAndGlyphs">F</text>
<text x="647.3" y="426" font-family="Liberation Sans" font-size="7.70" font-weight="normal" font-style="normal" fill="#111" stroke="#111" stroke-width="0.22" textLength="17.1" lengthAdjust="spacingAndGlyphs">YAZAKI</text>
<text x="671.8" y="426" font-family="Liberation Sans" font-size="7.70" font-weight="normal" font-style="normal" fill="#222" textLength="30.3" lengthAdjust="spacingAndGlyphs">7323-2044</text>
<line x1="649" y1="427.5" x2="705.9" y2="427.5" stroke="#000" stroke-width="1.0"/>
<text x="93" y="476.1" font-family="Liberation Sans" font-size="7.56" font-weight="normal" font-style="normal" fill="#111" stroke="#111" stroke-width="0.22" textLength="32.8" lengthAdjust="spacingAndGlyphs">HOUR METER</text>
<line x1="90.1" y1="477.5" x2="127.1" y2="477.5" stroke="#000" stroke-width="1.0"/>
<rect x="102.5" y="488.5" width="15.0" height="23.0" stroke="#000" stroke-width="1.1" fill="none"/>
<line x1="102.3" y1="494.5" x2="117.7" y2="494.5" stroke="#000" stroke-width="1.0"/>
<line x1="103" y1="489" x2="117" y2="493.8" stroke="#000" stroke-width="0.8"/>
<text x="81" y="530.1" font-family="Liberation Sans" font-size="7.85" font-weight="normal" font-style="normal" fill="#111" stroke="#111" stroke-width="0.22" textLength="17.6" lengthAdjust="spacingAndGlyphs">YAZAKI</text>
<text x="106.5" y="530.1" font-family="Liberation Sans" font-size="7.85" font-weight="normal" font-style="normal" fill="#222" textLength="30.4" lengthAdjust="spacingAndGlyphs">7123-2012</text>
<line x1="80" y1="530.5" x2="137.2" y2="530.5" stroke="#000" stroke-width="1.0"/>
<text x="173.8" y="469.9" font-family="Liberation Sans" font-size="7.12" font-weight="normal" font-style="normal" fill="#111" stroke="#111" stroke-width="0.22" textLength="19.4" lengthAdjust="spacingAndGlyphs">CAB/H</text>
<line x1="155" y1="471.5" x2="212" y2="471.5" stroke="#000" stroke-width="1.0"/>
<rect x="178.5" y="486.5" width="11.0" height="26.0" stroke="#000" stroke-width="1.1" fill="none"/>
<rect x="180.5" y="488.5" width="7.0" height="3.0" stroke="#000" stroke-width="1.0" fill="none"/>
<line x1="181" y1="489" x2="186.5" y2="491" stroke="#000" stroke-width="0.7"/>
<line x1="178.2" y1="492.5" x2="189.7" y2="492.5" stroke="#000" stroke-width="1.0"/>
<line x1="178.2" y1="501.5" x2="189.7" y2="501.5" stroke="#000" stroke-width="1.0"/>
<text x="183.4" y="499.6" font-family="Liberation Sans" font-size="6.83" font-weight="normal" font-style="normal" fill="#2a2a2a" textLength="2.8" lengthAdjust="spacingAndGlyphs">1</text>
<text x="183.4" y="509.6" font-family="Liberation Sans" font-size="7.70" font-weight="normal" font-style="normal" fill="#2a2a2a" textLength="3.2" lengthAdjust="spacingAndGlyphs">2</text>
<text x="166.8" y="529.6" font-family="Liberation Sans" font-size="7.12" font-weight="normal" font-style="normal" fill="#222" textLength="32.4" lengthAdjust="spacingAndGlyphs">SJD L02-FB</text>
<line x1="155" y1="531.5" x2="212" y2="531.5" stroke="#000" stroke-width="1.0"/>
<text x="245.2" y="470.1" font-family="Liberation Sans" font-size="7.27" font-weight="normal" font-style="normal" fill="#111" stroke="#111" stroke-width="0.22" textLength="18.7" lengthAdjust="spacingAndGlyphs">ENG/H</text>
<line x1="227.1" y1="471.5" x2="282.9" y2="471.5" stroke="#000" stroke-width="1.0"/>
<rect x="250.5" y="486.5" width="11.0" height="26.0" stroke="#000" stroke-width="1.1" fill="none"/>
<rect x="252.5" y="488.5" width="7.0" height="4.0" stroke="#000" stroke-width="1.0" fill="none"/>
<line x1="250.3" y1="493.5" x2="261.7" y2="493.5" stroke="#000" stroke-width="1.0"/>
<line x1="250.3" y1="501.5" x2="261.7" y2="501.5" stroke="#000" stroke-width="1.0"/>
<text x="255.4" y="500.4" font-family="Liberation Sans" font-size="6.83" font-weight="normal" font-style="normal" fill="#2a2a2a" textLength="2.8" lengthAdjust="spacingAndGlyphs">1</text>
<text x="255.2" y="509.6" font-family="Liberation Sans" font-size="7.41" font-weight="normal" font-style="normal" fill="#2a2a2a" textLength="3.2" lengthAdjust="spacingAndGlyphs">2</text>
<text x="227.3" y="530" font-family="Liberation Sans" font-size="7.41" font-weight="normal" font-style="normal" fill="#222" textLength="54.7" lengthAdjust="spacingAndGlyphs">SJD PH 481-02020</text>
<line x1="226" y1="531.5" x2="286" y2="531.5" stroke="#000" stroke-width="1.0"/>
<text x="309.3" y="472" font-family="Liberation Sans" font-size="7.56" font-weight="normal" font-style="normal" fill="#111" stroke="#111" stroke-width="0.22" textLength="43.6" lengthAdjust="spacingAndGlyphs">MONITOR BUZZER</text>
<line x1="309.3" y1="472.5" x2="352.9" y2="472.5" stroke="#000" stroke-width="1.0"/>
<rect x="319.5" y="493.5" width="22.0" height="18.0" stroke="#000" stroke-width="1.1" fill="none"/>
<line x1="319.2" y1="502.5" x2="341.6" y2="502.5" stroke="#000" stroke-width="1.0"/>
<line x1="330.5" y1="502.4" x2="330.5" y2="511.7" stroke="#000" stroke-width="1.0"/>
<circle cx="330.5" cy="497.6" r="3.2" stroke="#000" stroke-width="1.0" fill="none"/>
<text x="324.6" y="509.4" font-family="Liberation Sans" font-size="7.41" font-weight="normal" font-style="normal" fill="#2a2a2a" textLength="3.2" lengthAdjust="spacingAndGlyphs">2</text>
<text x="334.2" y="509.4" font-family="Liberation Sans" font-size="7.41" font-weight="normal" font-style="normal" fill="#2a2a2a" textLength="2.6" lengthAdjust="spacingAndGlyphs">1</text>
<text x="320" y="531" font-family="Liberation Sans" font-size="7.70" font-weight="normal" font-style="normal" fill="#222" textLength="21.9" lengthAdjust="spacingAndGlyphs">C02 FW</text>
<line x1="317" y1="532.5" x2="343.8" y2="532.5" stroke="#000" stroke-width="1.0"/>
<text x="385.1" y="471.9" font-family="Liberation Sans" font-size="7.12" font-weight="normal" font-style="normal" fill="#111" stroke="#111" stroke-width="0.22" textLength="32.8" lengthAdjust="spacingAndGlyphs">ALTERNATOR</text>
<line x1="382.1" y1="472.5" x2="419" y2="472.5" stroke="#000" stroke-width="1.0"/>
<rect x="393.5" y="483.5" width="17.0" height="9.0" stroke="#000" stroke-width="1.0" fill="none"/>
<rect x="396.5" y="492.5" width="11.0" height="11.0" stroke="#000" stroke-width="1.0" fill="none"/>
<path d="M399.6,480.6 L404.4,480.6 L402.0,483.1 Z" stroke="#000" stroke-width="0.8" fill="none" stroke-linejoin="round" />
<text x="400.2" y="490.4" font-family="Liberation Sans" font-size="7.12" font-weight="bold" font-style="normal" fill="#2a2a2a" textLength="3.6" lengthAdjust="spacingAndGlyphs">R</text>
<text x="400.4" y="500.2" font-family="Liberation Sans" font-size="7.12" font-weight="bold" font-style="normal" fill="#2a2a2a" textLength="3.4" lengthAdjust="spacingAndGlyphs">L</text>
<text x="372.2" y="522.3" font-family="Liberation Sans" font-size="8.43" font-weight="normal" font-style="normal" fill="#111" stroke="#111" stroke-width="0.22" textLength="15.8" lengthAdjust="spacingAndGlyphs">YAZAKI</text>
<text x="389" y="522.3" font-family="Liberation Sans" font-size="8.43" font-weight="bold" font-style="normal" fill="#111" stroke="#111" stroke-width="0.22" textLength="34.9" lengthAdjust="spacingAndGlyphs">7323-2128</text>
<line x1="372.1" y1="523.5" x2="428.9" y2="523.5" stroke="#000" stroke-width="1.0"/>
<text x="464" y="475.9" font-family="Liberation Sans" font-size="7.85" font-weight="normal" font-style="normal" fill="#111" stroke="#111" stroke-width="0.22" textLength="25.7" lengthAdjust="spacingAndGlyphs">MONITOR</text>
<line x1="462" y1="477.5" x2="490.8" y2="477.5" stroke="#000" stroke-width="1.0"/>
<rect x="445.5" y="504.5" width="63.0" height="18.0" stroke="#000" stroke-width="1.1" fill="none"/>
<line x1="445.4" y1="513.5" x2="508.9" y2="513.5" stroke="#000" stroke-width="1.0"/>
<line x1="454.5" y1="504.1" x2="454.5" y2="522.6" stroke="#000" stroke-width="1.0"/>
<line x1="463.5" y1="504.1" x2="463.5" y2="522.6" stroke="#000" stroke-width="1.0"/>
<line x1="481.5" y1="504.1" x2="481.5" y2="522.6" stroke="#000" stroke-width="1.0"/>
<line x1="490.5" y1="504.1" x2="490.5" y2="522.6" stroke="#000" stroke-width="1.0"/>
<line x1="499.5" y1="504.1" x2="499.5" y2="522.6" stroke="#000" stroke-width="1.0"/>
<line x1="472.5" y1="513.5" x2="472.5" y2="522.6" stroke="#000" stroke-width="1.0"/>
<circle cx="472.6" cy="508.8" r="3.0" stroke="#000" stroke-width="1.0" fill="none"/>
<text x="448.6" y="511.2" font-family="Liberation Sans" font-size="7.41" font-weight="normal" font-style="normal" fill="#2a2a2a" textLength="3.0" lengthAdjust="spacingAndGlyphs">5</text>
<text x="457.6" y="511.2" font-family="Liberation Sans" font-size="7.41" font-weight="normal" font-style="normal" fill="#2a2a2a" textLength="3.0" lengthAdjust="spacingAndGlyphs">4</text>
<text x="484.6" y="511.2" font-family="Liberation Sans" font-size="7.41" font-weight="normal" font-style="normal" fill="#2a2a2a" textLength="3.0" lengthAdjust="spacingAndGlyphs">3</text>
<text x="493.8" y="511.2" font-family="Liberation Sans" font-size="7.41" font-weight="normal" font-style="normal" fill="#2a2a2a" textLength="3.0" lengthAdjust="spacingAndGlyphs">2</text>
<text x="502.8" y="511.2" font-family="Liberation Sans" font-size="7.41" font-weight="normal" font-style="normal" fill="#2a2a2a" textLength="3.0" lengthAdjust="spacingAndGlyphs">1</text>
<text x="447.3" y="520.6" font-family="Liberation Sans" font-size="7.41" font-weight="normal" font-style="normal" fill="#2a2a2a" textLength="5.4" lengthAdjust="spacingAndGlyphs">12</text>
<text x="456.3" y="520.6" font-family="Liberation Sans" font-size="7.41" font-weight="normal" font-style="normal" fill="#2a2a2a" textLength="5.4" lengthAdjust="spacingAndGlyphs">11</text>
<text x="465.3" y="520.6" font-family="Liberation Sans" font-size="7.41" font-weight="normal" font-style="normal" fill="#2a2a2a" textLength="5.4" lengthAdjust="spacingAndGlyphs">10</text>
<text x="475.5" y="520.6" font-family="Liberation Sans" font-size="7.41" font-weight="normal" font-style="normal" fill="#2a2a2a" textLength="3.0" lengthAdjust="spacingAndGlyphs">9</text>
<text x="484.5" y="520.6" font-family="Liberation Sans" font-size="7.41" font-weight="normal" font-style="normal" fill="#2a2a2a" textLength="3.0" lengthAdjust="spacingAndGlyphs">8</text>
<text x="493.7" y="520.6" font-family="Liberation Sans" font-size="7.41" font-weight="normal" font-style="normal" fill="#2a2a2a" textLength="3.0" lengthAdjust="spacingAndGlyphs">7</text>
<text x="502.7" y="520.6" font-family="Liberation Sans" font-size="7.41" font-weight="normal" font-style="normal" fill="#2a2a2a" textLength="3.0" lengthAdjust="spacingAndGlyphs">6</text>
<text x="466.3" y="532.1" font-family="Liberation Sans" font-size="7.27" font-weight="normal" font-style="normal" fill="#222" textLength="21.9" lengthAdjust="spacingAndGlyphs">C12 FW</text>
<line x1="464" y1="533.5" x2="489" y2="533.5" stroke="#000" stroke-width="1.0"/>
<text x="515.4" y="475.9" font-family="Liberation Sans" font-size="7.85" font-weight="normal" font-style="normal" fill="#111" stroke="#111" stroke-width="0.22" textLength="36.6" lengthAdjust="spacingAndGlyphs">MONITOR SW</text>
<line x1="511.2" y1="477.5" x2="554" y2="477.5" stroke="#000" stroke-width="1.0"/>
<rect x="514.5" y="504.5" width="35.0" height="18.0" stroke="#000" stroke-width="1.1" fill="none"/>
<line x1="514.2" y1="513.5" x2="549.7" y2="513.5" stroke="#000" stroke-width="1.0"/>
<line x1="523.5" y1="504.1" x2="523.5" y2="522.6" stroke="#000" stroke-width="1.0"/>
<line x1="540.5" y1="504.1" x2="540.5" y2="522.6" stroke="#000" stroke-width="1.0"/>
<line x1="532.5" y1="513.5" x2="532.5" y2="522.6" stroke="#000" stroke-width="1.0"/>
<circle cx="531.6" cy="508.8" r="3.0" stroke="#000" stroke-width="1.0" fill="none"/>
<text x="517.4" y="511.2" font-family="Liberation Sans" font-size="7.41" font-weight="normal" font-style="normal" fill="#2a2a2a" textLength="3.0" lengthAdjust="spacingAndGlyphs">2</text>
<text x="543.6" y="511.2" font-family="Liberation Sans" font-size="7.41" font-weight="normal" font-style="normal" fill="#2a2a2a" textLength="3.0" lengthAdjust="spacingAndGlyphs">1</text>
<text x="517.1" y="520.6" font-family="Liberation Sans" font-size="7.41" font-weight="normal" font-style="normal" fill="#2a2a2a" textLength="3.0" lengthAdjust="spacingAndGlyphs">6</text>
<text x="526.0" y="520.6" font-family="Liberation Sans" font-size="7.41" font-weight="normal" font-style="normal" fill="#2a2a2a" textLength="3.0" lengthAdjust="spacingAndGlyphs">5</text>
<text x="534.6" y="520.6" font-family="Liberation Sans" font-size="7.41" font-weight="normal" font-style="normal" fill="#2a2a2a" textLength="3.0" lengthAdjust="spacingAndGlyphs">4</text>
<text x="543.5" y="520.6" font-family="Liberation Sans" font-size="7.41" font-weight="normal" font-style="normal" fill="#2a2a2a" textLength="3.0" lengthAdjust="spacingAndGlyphs">3</text>
<text x="522.2" y="532.1" font-family="Liberation Sans" font-size="7.27" font-weight="normal" font-style="normal" fill="#222" textLength="22.2" lengthAdjust="spacingAndGlyphs">C06 FW</text>
<line x1="521" y1="533.5" x2="544.9" y2="533.5" stroke="#000" stroke-width="1.0"/>
<text x="642.8" y="469.8" font-family="Liberation Sans" font-size="7.12" font-weight="normal" font-style="normal" fill="#111" stroke="#111" stroke-width="0.22" textLength="15.4" lengthAdjust="spacingAndGlyphs">RADIO</text>
<line x1="641" y1="471.5" x2="659" y2="471.5" stroke="#000" stroke-width="1.0"/>
<rect x="597.5" y="488.5" width="100.0" height="22.0" stroke="#000" stroke-width="1.1" fill="none"/>
<line x1="597.5" y1="499.5" x2="697.6" y2="499.5" stroke="#000" stroke-width="1.0"/>
<line x1="614.5" y1="488.3" x2="614.5" y2="510.6" stroke="#000" stroke-width="1.0"/>
<line x1="630.5" y1="488.3" x2="630.5" y2="510.6" stroke="#000" stroke-width="1.0"/>
<line x1="664.5" y1="488.3" x2="664.5" y2="510.6" stroke="#000" stroke-width="1.0"/>
<line x1="681.5" y1="488.3" x2="681.5" y2="510.6" stroke="#000" stroke-width="1.0"/>
<line x1="647.5" y1="499.5" x2="647.5" y2="510.6" stroke="#000" stroke-width="1.0"/>
<circle cx="647.3" cy="495" r="3.0" stroke="#000" stroke-width="1.0" fill="none"/>
<text x="618.2" y="498.4" font-family="Liberation Sans" font-size="7.70" font-weight="normal" font-style="normal" fill="#222" textLength="10.8" lengthAdjust="spacingAndGlyphs">SP+</text>
<text x="668.2" y="498.4" font-family="Liberation Sans" font-size="7.70" font-weight="normal" font-style="normal" fill="#222" textLength="12.2" lengthAdjust="spacingAndGlyphs">ACC</text>
<text x="683.9" y="498.4" font-family="Liberation Sans" font-size="7.70" font-weight="normal" font-style="normal" fill="#222" textLength="12.0" lengthAdjust="spacingAndGlyphs">ALM</text>
<text x="618.2" y="509.2" font-family="Liberation Sans" font-size="7.70" font-weight="normal" font-style="normal" fill="#222" textLength="9.2" lengthAdjust="spacingAndGlyphs">SP-</text>
<text x="650.8" y="509.2" font-family="Liberation Sans" font-size="7.70" font-weight="normal" font-style="normal" fill="#222" textLength="11.9" lengthAdjust="spacingAndGlyphs">GND</text>
<text x="666.2" y="509.2" font-family="Liberation Sans" font-size="7.70" font-weight="normal" font-style="normal" fill="#222" textLength="13.1" lengthAdjust="spacingAndGlyphs">B.UP</text>
<text x="683.9" y="509.2" font-family="Liberation Sans" font-size="7.70" font-weight="normal" font-style="normal" fill="#222" textLength="8.0" lengthAdjust="spacingAndGlyphs">ILL</text>
<text x="587.6" y="481.8" font-family="Liberation Sans" font-size="7.70" font-weight="normal" font-style="normal" fill="#222" textLength="15.2" lengthAdjust="spacingAndGlyphs">OPEN</text>
<line x1="597.1" y1="482.4" x2="606" y2="488.1" stroke="#000" stroke-width="0.9"/>
<text x="586.8" y="525.8" font-family="Liberation Sans" font-size="7.12" font-weight="normal" font-style="normal" fill="#222" textLength="14.9" lengthAdjust="spacingAndGlyphs">OPEN</text>
<line x1="601.1" y1="520.1" x2="605.7" y2="510.9" stroke="#000" stroke-width="0.9"/>
<text x="617.1" y="525.8" font-family="Liberation Sans" font-size="7.12" font-weight="normal" font-style="normal" fill="#222" textLength="14.8" lengthAdjust="spacingAndGlyphs">OPEN</text>
<line x1="632.5" y1="519.5" x2="638.8" y2="510.9" stroke="#000" stroke-width="0.9"/>
<text x="639.3" y="533.2" font-family="Liberation Sans" font-size="7.70" font-weight="normal" font-style="normal" fill="#222" textLength="20.6" lengthAdjust="spacingAndGlyphs">C10FW</text>
<line x1="630.2" y1="534.5" x2="665" y2="534.5" stroke="#000" stroke-width="1.0"/>
<text x="90.1" y="565.8" font-family="Liberation Sans" font-size="7.12" font-weight="normal" font-style="normal" fill="#111" stroke="#111" stroke-width="0.22" textLength="37.8" lengthAdjust="spacingAndGlyphs">COOLER RELAY</text>
<line x1="88" y1="566.5" x2="130" y2="566.5" stroke="#000" stroke-width="1.0"/>
<rect x="101.5" y="577.5" width="15.0" height="24.0" stroke="#000" stroke-width="1.1" fill="none"/>
<line x1="101.3" y1="583.5" x2="116.8" y2="583.5" stroke="#000" stroke-width="1.0"/>
<line x1="102" y1="578" x2="116" y2="583" stroke="#000" stroke-width="0.8"/>
<text x="91.4" y="618.6" font-family="Liberation Sans" font-size="7.12" font-weight="normal" font-style="normal" fill="#222" textLength="35.7" lengthAdjust="spacingAndGlyphs">SJD M01-FW</text>
<line x1="80" y1="620.5" x2="136" y2="620.5" stroke="#000" stroke-width="1.0"/>
<text x="173.5" y="564.8" font-family="Liberation Sans" font-size="7.12" font-weight="normal" font-style="normal" fill="#111" stroke="#111" stroke-width="0.22" textLength="14.3" lengthAdjust="spacingAndGlyphs">HORN</text>
<line x1="172" y1="566.5" x2="190.8" y2="566.5" stroke="#000" stroke-width="1.0"/>
<rect x="170.5" y="585.5" width="24.0" height="15.0" stroke="#000" stroke-width="1.1" fill="none"/>
<line x1="176.5" y1="585" x2="176.5" y2="600.5" stroke="#000" stroke-width="1.0"/>
<line x1="171" y1="586" x2="176" y2="599.5" stroke="#000" stroke-width="0.8"/>
<text x="156" y="618.6" font-family="Liberation Sans" font-size="7.12" font-weight="normal" font-style="normal" fill="#2a2a2a" stroke="#2a2a2a" stroke-width="0.1" textLength="50.0" lengthAdjust="spacingAndGlyphs">S J D   S E T — 1 P</text>
<text x="216" y="618.6" font-family="Liberation Sans" font-size="7.12" font-weight="normal" font-style="normal" fill="#222" textLength="8.9" lengthAdjust="spacingAndGlyphs">(B)</text>
<line x1="153" y1="620.5" x2="209.9" y2="620.5" stroke="#000" stroke-width="1.0"/>
<text x="244.6" y="560.1" font-family="Liberation Sans" font-size="5.52" font-weight="normal" font-style="normal" fill="#444" stroke="#444" stroke-width="0.1" textLength="16.2" lengthAdjust="spacingAndGlyphs">A/SEOS</text>
<line x1="229.1" y1="562.5" x2="273.9" y2="562.5" stroke="#000" stroke-width="1.0"/>
<path d="M240.79999999999998,589.1 L262.2,589.1 A5.699999999999989,5.699999999999989 0 0 1 262.2,600.5 L240.79999999999998,600.5 A5.699999999999989,5.699999999999989 0 0 1 240.79999999999998,589.1 Z" stroke="#000" stroke-width="1.0" fill="none" stroke-linejoin="round" />
<line x1="245.5" y1="584.4" x2="245.5" y2="600.5" stroke="#000" stroke-width="1.0"/>
<line x1="257.5" y1="584.4" x2="257.5" y2="600.5" stroke="#000" stroke-width="1.0"/>
<line x1="245.2" y1="584.5" x2="257.8" y2="584.5" stroke="#000" stroke-width="1.0"/>
<line x1="246" y1="585" x2="257" y2="589" stroke="#000" stroke-width="0.8"/>
<text x="239" y="597.4" font-family="Liberation Sans" font-size="7.70" font-weight="normal" font-style="normal" fill="#2a2a2a" textLength="2.8" lengthAdjust="spacingAndGlyphs">1</text>
<text x="249.8" y="597.4" font-family="Liberation Sans" font-size="7.70" font-weight="normal" font-style="normal" fill="#2a2a2a" textLength="3.4" lengthAdjust="spacingAndGlyphs">2</text>
<text x="259.8" y="597.4" font-family="Liberation Sans" font-size="7.70" font-weight="normal" font-style="normal" fill="#2a2a2a" textLength="3.4" lengthAdjust="spacingAndGlyphs">3</text>
<text x="240.8" y="612" font-family="Liberation Sans" font-size="7.41" font-weight="normal" font-style="normal" fill="#222" textLength="24.4" lengthAdjust="spacingAndGlyphs">Z03F-GY</text>
<line x1="235.1" y1="613.5" x2="267" y2="613.5" stroke="#000" stroke-width="1.0"/>
<text x="309.7" y="558.1" font-family="Liberation Sans" font-size="7.12" font-weight="normal" font-style="normal" fill="#111" stroke="#111" stroke-width="0.22" textLength="26.3" lengthAdjust="spacingAndGlyphs">EC MOTOR</text>
<line x1="308.9" y1="559.5" x2="339" y2="559.5" stroke="#000" stroke-width="1.0"/>
<rect x="313.5" y="587.5" width="21.0" height="20.0" stroke="#000" stroke-width="1.0" fill="none" rx="4"/>
<rect x="318.5" y="582.5" width="11.0" height="5.0" stroke="#000" stroke-width="1.0" fill="none"/>
<line x1="319" y1="583" x2="329" y2="586.5" stroke="#000" stroke-width="0.8"/>
<line x1="323.5" y1="587" x2="323.5" y2="607.7" stroke="#000" stroke-width="1.0"/>
<line x1="313" y1="597.5" x2="334.2" y2="597.5" stroke="#000" stroke-width="1.0"/>
<text x="319.2" y="594.6" font-family="Liberation Sans" font-size="7.41" font-weight="normal" font-style="normal" fill="#2a2a2a" textLength="2.8" lengthAdjust="spacingAndGlyphs">1</text>
<text x="326.2" y="594.6" font-family="Liberation Sans" font-size="7.41" font-weight="normal" font-style="normal" fill="#2a2a2a" textLength="3.2" lengthAdjust="spacingAndGlyphs">2</text>
<text x="318.8" y="604.6" font-family="Liberation Sans" font-size="7.41" font-weight="normal" font-style="normal" fill="#2a2a2a" textLength="3.2" lengthAdjust="spacingAndGlyphs">3</text>
<text x="326.2" y="604.6" font-family="Liberation Sans" font-size="7.41" font-weight="normal" font-style="normal" fill="#2a2a2a" textLength="3.4" lengthAdjust="spacingAndGlyphs">4</text>
<text x="313.3" y="620.4" font-family="Liberation Sans" font-size="7.41" font-weight="normal" font-style="normal" fill="#222" textLength="24.3" lengthAdjust="spacingAndGlyphs">Z04F-GY</text>
<line x1="308.2" y1="621.5" x2="338" y2="621.5" stroke="#000" stroke-width="1.0"/>
<text x="379.8" y="556.1" font-family="Liberation Sans" font-size="7.85" font-weight="normal" font-style="normal" fill="#111" stroke="#111" stroke-width="0.22" textLength="45.6" lengthAdjust="spacingAndGlyphs">PRESSURE SWITCH</text>
<line x1="378.9" y1="557.5" x2="425" y2="557.5" stroke="#000" stroke-width="1.0"/>
<path d="M398.04999999999995,582.2 L408.55,582.2 A5.849999999999966,5.849999999999966 0 0 1 408.55,593.9 L398.04999999999995,593.9 A5.849999999999966,5.849999999999966 0 0 1 398.04999999999995,582.2 Z" stroke="#000" stroke-width="1.0" fill="none" stroke-linejoin="round" />
<rect x="398.5" y="578.5" width="10.0" height="4.0" stroke="#000" stroke-width="1.0" fill="none"/>
<line x1="403.5" y1="582.2" x2="403.5" y2="593.9" stroke="#000" stroke-width="1.0"/>
<line x1="399" y1="579" x2="408" y2="581.5" stroke="#000" stroke-width="0.7"/>
<text x="397.6" y="591.4" font-family="Liberation Sans" font-size="7.41" font-weight="normal" font-style="normal" fill="#2a2a2a" textLength="2.6" lengthAdjust="spacingAndGlyphs">1</text>
<text x="405.4" y="591.4" font-family="Liberation Sans" font-size="7.41" font-weight="normal" font-style="normal" fill="#2a2a2a" textLength="3.4" lengthAdjust="spacingAndGlyphs">2</text>
<text x="374.8" y="607.2" font-family="Liberation Sans" font-size="7.99" font-weight="normal" font-style="normal" fill="#111" stroke="#111" stroke-width="0.22" textLength="17.2" lengthAdjust="spacingAndGlyphs">YAZAKI</text>
<text x="393.5" y="607.2" font-family="Liberation Sans" font-size="7.99" font-weight="normal" font-style="normal" fill="#222" textLength="31.5" lengthAdjust="spacingAndGlyphs">7323-9327</text>
<line x1="377.1" y1="608.5" x2="422" y2="608.5" stroke="#000" stroke-width="1.0"/>
<text x="394.5" y="614.7" font-family="Liberation Sans" font-size="7.70" font-weight="normal" font-style="normal" fill="#222" textLength="28.7" lengthAdjust="spacingAndGlyphs">090-2-WP</text>
<line x1="392.2" y1="616.5" x2="422" y2="616.5" stroke="#000" stroke-width="1.0"/>
<text x="479.1" y="560.3" font-family="Liberation Sans" font-size="7.99" font-weight="normal" font-style="normal" fill="#111" stroke="#111" stroke-width="0.22" textLength="49.1" lengthAdjust="spacingAndGlyphs">O.H.S. CONTROLLER</text>
<line x1="472" y1="560.5" x2="533.8" y2="560.5" stroke="#000" stroke-width="1.0"/>
<path d="M470.3,579.5 H530.8 V583.3 H534.7 V608.6 H467.3 V583.3 H470.3 Z" stroke="#000" stroke-width="1.1" fill="none" stroke-linejoin="round" />
<line x1="467.3" y1="594.5" x2="534.7" y2="594.5" stroke="#000" stroke-width="1.0"/>
<line x1="483.5" y1="579.5" x2="483.5" y2="608.6" stroke="#000" stroke-width="1.0"/>
<line x1="500.5" y1="579.5" x2="500.5" y2="608.6" stroke="#000" stroke-width="1.0"/>
<line x1="517.5" y1="579.5" x2="517.5" y2="608.6" stroke="#000" stroke-width="1.0"/>
<rect x="492.5" y="574.5" width="16.0" height="5.0" stroke="#000" stroke-width="1.0" fill="none"/>
<line x1="493" y1="575" x2="507.5" y2="579.2" stroke="#000" stroke-width="0.8"/>
<text x="474.4" y="590.2" font-family="Liberation Sans" font-size="7.12" font-weight="normal" font-style="normal" fill="#2a2a2a" textLength="3.2" lengthAdjust="spacingAndGlyphs">4</text>
<text x="490.79999999999995" y="590.2" font-family="Liberation Sans" font-size="7.12" font-weight="normal" font-style="normal" fill="#2a2a2a" textLength="3.2" lengthAdjust="spacingAndGlyphs">3</text>
<text x="508.0" y="590.2" font-family="Liberation Sans" font-size="7.12" font-weight="normal" font-style="normal" fill="#2a2a2a" textLength="3.2" lengthAdjust="spacingAndGlyphs">2</text>
<text x="524.6" y="590.2" font-family="Liberation Sans" font-size="7.12" font-weight="normal" font-style="normal" fill="#2a2a2a" textLength="3.2" lengthAdjust="spacingAndGlyphs">1</text>
<text x="474.59999999999997" y="604.4" font-family="Liberation Sans" font-size="7.12" font-weight="normal" font-style="normal" fill="#2a2a2a" textLength="3.2" lengthAdjust="spacingAndGlyphs">8</text>
<text x="490.79999999999995" y="604.4" font-family="Liberation Sans" font-size="7.12" font-weight="normal" font-style="normal" fill="#2a2a2a" textLength="3.2" lengthAdjust="spacingAndGlyphs">7</text>
<text x="508.4" y="604.4" font-family="Liberation Sans" font-size="7.12" font-weight="normal" font-style="normal" fill="#2a2a2a" textLength="3.2" lengthAdjust="spacingAndGlyphs">6</text>
<text x="524.6" y="604.4" font-family="Liberation Sans" font-size="7.12" font-weight="normal" font-style="normal" fill="#2a2a2a" textLength="3.2" lengthAdjust="spacingAndGlyphs">5</text>
<text x="472.8" y="622.6" font-family="Liberation Sans" font-size="7.41" font-weight="normal" font-style="normal" fill="#111" stroke="#111" stroke-width="0.22" textLength="16.7" lengthAdjust="spacingAndGlyphs">YAZAKI</text>
<text x="491.5" y="622.6" font-family="Liberation Sans" font-size="7.41" font-weight="normal" font-style="normal" fill="#222" textLength="51.1" lengthAdjust="spacingAndGlyphs">7 1 2 3 — 2 1 8 6</text>
<line x1="464" y1="623.5" x2="547.1" y2="623.5" stroke="#000" stroke-width="1.0"/>
<text x="621.4" y="565.1" font-family="Liberation Sans" font-size="10.03" font-weight="normal" font-style="normal" fill="#111" textLength="45.9" lengthAdjust="spacingAndGlyphs">YOBI_CON.</text>
<rect x="609.5" y="580.5" width="67.0" height="22.0" stroke="#000" stroke-width="1.1" fill="none"/>
<line x1="609.3" y1="591.5" x2="676.7" y2="591.5" stroke="#000" stroke-width="1.0"/>
<line x1="621.5" y1="580.3" x2="621.5" y2="602.6" stroke="#000" stroke-width="1.0"/>
<line x1="632.5" y1="580.3" x2="632.5" y2="602.6" stroke="#000" stroke-width="1.0"/>
<line x1="654.5" y1="580.3" x2="654.5" y2="602.6" stroke="#000" stroke-width="1.0"/>
<line x1="665.5" y1="580.3" x2="665.5" y2="602.6" stroke="#000" stroke-width="1.0"/>
<line x1="643.5" y1="591.4" x2="643.5" y2="602.6" stroke="#000" stroke-width="1.0"/>
<circle cx="643.2" cy="585.6" r="2.8" stroke="#000" stroke-width="1.0" fill="none"/>
<text x="611" y="589.8" font-family="Liberation Sans" font-size="9.74" font-weight="normal" font-style="normal" fill="#2a2a2a" textLength="3.8" lengthAdjust="spacingAndGlyphs">1</text>
<text x="622.6" y="589.8" font-family="Liberation Sans" font-size="9.74" font-weight="normal" font-style="normal" fill="#2a2a2a" textLength="4.2" lengthAdjust="spacingAndGlyphs">2</text>
<text x="655.8" y="589.8" font-family="Liberation Sans" font-size="9.74" font-weight="normal" font-style="normal" fill="#2a2a2a" textLength="4.2" lengthAdjust="spacingAndGlyphs">3</text>
<text x="667" y="589.8" font-family="Liberation Sans" font-size="9.74" font-weight="normal" font-style="normal" fill="#2a2a2a" textLength="4.6" lengthAdjust="spacingAndGlyphs">4</text>
<text x="611" y="600.8" font-family="Liberation Sans" font-size="9.74" font-weight="normal" font-style="normal" fill="#2a2a2a" textLength="4.4" lengthAdjust="spacingAndGlyphs">5</text>
<text x="622.6" y="600.8" font-family="Liberation Sans" font-size="9.74" font-weight="normal" font-style="normal" fill="#2a2a2a" textLength="4.4" lengthAdjust="spacingAndGlyphs">6</text>
<text x="633.8" y="600.8" font-family="Liberation Sans" font-size="9.74" font-weight="normal" font-style="normal" fill="#2a2a2a" textLength="4.4" lengthAdjust="spacingAndGlyphs">7</text>
<text x="645" y="600.8" font-family="Liberation Sans" font-size="9.74" font-weight="normal" font-style="normal" fill="#2a2a2a" textLength="4.6" lengthAdjust="spacingAndGlyphs">8</text>
<text x="655.8" y="601.2" font-family="Liberation Sans" font-size="4.22" font-weight="normal" font-style="normal" fill="#444" stroke="#444" stroke-width="0.1" textLength="9.0" lengthAdjust="spacingAndGlyphs">OPEN</text>
<text x="666.8" y="601.2" font-family="Liberation Sans" font-size="4.22" font-weight="normal" font-style="normal" fill="#444" stroke="#444" stroke-width="0.1" textLength="9.0" lengthAdjust="spacingAndGlyphs">OPEN</text>
<text x="621.7" y="618.8" font-family="Liberation Sans" font-size="10.17" font-weight="normal" font-style="normal" fill="#111" textLength="30.4" lengthAdjust="spacingAndGlyphs">C10FW</text>
<rect x="116.5" y="670.5" width="122.0" height="22.0" stroke="#000" stroke-width="1.1" fill="none"/>
<line x1="116.3" y1="681.5" x2="238.73000000000002" y2="681.5" stroke="#000" stroke-width="1.0"/>
<line x1="127.5" y1="670.2" x2="127.5" y2="692.6000000000001" stroke="#000" stroke-width="1.0"/>
<line x1="138.5" y1="670.2" x2="138.5" y2="692.6000000000001" stroke="#000" stroke-width="1.0"/>
<line x1="149.5" y1="670.2" x2="149.5" y2="692.6000000000001" stroke="#000" stroke-width="1.0"/>
<line x1="160.5" y1="670.2" x2="160.5" y2="692.6000000000001" stroke="#000" stroke-width="1.0"/>
<line x1="171.5" y1="670.2" x2="171.5" y2="692.6000000000001" stroke="#000" stroke-width="1.0"/>
<line x1="183.5" y1="670.2" x2="183.5" y2="692.6000000000001" stroke="#000" stroke-width="1.0"/>
<line x1="194.5" y1="670.2" x2="194.5" y2="692.6000000000001" stroke="#000" stroke-width="1.0"/>
<line x1="205.5" y1="670.2" x2="205.5" y2="692.6000000000001" stroke="#000" stroke-width="1.0"/>
<line x1="216.5" y1="670.2" x2="216.5" y2="692.6000000000001" stroke="#000" stroke-width="1.0"/>
<line x1="227.5" y1="670.2" x2="227.5" y2="692.6000000000001" stroke="#000" stroke-width="1.0"/>
<rect x="160.5" y="663.5" width="34.0" height="7.0" stroke="#000" stroke-width="1.0" fill="none"/>
<line x1="161.1" y1="669.9000000000001" x2="193.79999999999998" y2="664.0" stroke="#000" stroke-width="0.8"/>
<text x="166" y="651.1" font-family="Liberation Mono" font-size="8.87" font-weight="normal" font-style="normal" fill="#111" stroke="#111" stroke-width="0.08" textLength="22.9" lengthAdjust="spacingAndGlyphs">SAC-D</text>
<text x="121.6" y="679.2" font-family="Liberation Sans" font-size="8.58" font-weight="normal" font-style="normal" fill="#000" stroke="#000" stroke-width="0.12" textLength="2.8" lengthAdjust="spacingAndGlyphs">1</text>
<text x="118.4" y="690.2" font-family="Liberation Sans" font-size="8.28" font-weight="normal" font-style="normal" fill="#000" stroke="#000" stroke-width="0.12" textLength="6.2" lengthAdjust="spacingAndGlyphs">12</text>
<text x="229.2" y="679.2" font-family="Liberation Sans" font-size="8.58" font-weight="normal" font-style="normal" fill="#000" stroke="#000" stroke-width="0.12" textLength="6.4" lengthAdjust="spacingAndGlyphs">11</text>
<text x="229.2" y="690.2" font-family="Liberation Sans" font-size="8.28" font-weight="normal" font-style="normal" fill="#000" stroke="#000" stroke-width="0.12" textLength="6.6" lengthAdjust="spacingAndGlyphs">22</text>
<text x="149" y="707" font-family="Liberation Mono" font-size="9.45" font-weight="normal" font-style="normal" fill="#111" stroke="#111" stroke-width="0.08" textLength="54.4" lengthAdjust="spacingAndGlyphs">AMP-174515-6</text>
<rect x="321.5" y="671.5" width="89.0" height="22.0" stroke="#000" stroke-width="1.1" fill="none"/>
<line x1="321.3" y1="682.5" x2="410.66" y2="682.5" stroke="#000" stroke-width="1.0"/>
<line x1="332.5" y1="671.3" x2="332.5" y2="693.5" stroke="#000" stroke-width="1.0"/>
<line x1="343.5" y1="671.3" x2="343.5" y2="693.5" stroke="#000" stroke-width="1.0"/>
<line x1="354.5" y1="671.3" x2="354.5" y2="693.5" stroke="#000" stroke-width="1.0"/>
<line x1="365.5" y1="671.3" x2="365.5" y2="693.5" stroke="#000" stroke-width="1.0"/>
<line x1="377.5" y1="671.3" x2="377.5" y2="693.5" stroke="#000" stroke-width="1.0"/>
<line x1="388.5" y1="671.3" x2="388.5" y2="693.5" stroke="#000" stroke-width="1.0"/>
<line x1="399.5" y1="671.3" x2="399.5" y2="693.5" stroke="#000" stroke-width="1.0"/>
<rect x="355.5" y="662.5" width="22.0" height="9.0" stroke="#000" stroke-width="1.0" fill="none"/>
<line x1="356.1" y1="671.0" x2="376.8" y2="663.0999999999999" stroke="#000" stroke-width="0.8"/>
<text x="356" y="648.2" font-family="Liberation Mono" font-size="8.87" font-weight="normal" font-style="normal" fill="#111" stroke="#111" stroke-width="0.08" textLength="22.3" lengthAdjust="spacingAndGlyphs">SMC-B</text>
<text x="327.2" y="680.4" font-family="Liberation Sans" font-size="8.58" font-weight="normal" font-style="normal" fill="#000" stroke="#000" stroke-width="0.12" textLength="2.4" lengthAdjust="spacingAndGlyphs">1</text>
<text x="326.8" y="691.2" font-family="Liberation Sans" font-size="8.58" font-weight="normal" font-style="normal" fill="#000" stroke="#000" stroke-width="0.12" textLength="4.2" lengthAdjust="spacingAndGlyphs">9</text>
<text x="406" y="680.4" font-family="Liberation Sans" font-size="8.58" font-weight="normal" font-style="normal" fill="#000" stroke="#000" stroke-width="0.12" textLength="3.6" lengthAdjust="spacingAndGlyphs">8</text>
<text x="402.8" y="691.2" font-family="Liberation Sans" font-size="8.58" font-weight="normal" font-style="normal" fill="#000" stroke="#000" stroke-width="0.12" textLength="6.8" lengthAdjust="spacingAndGlyphs">16</text>
<text x="340.8" y="711.1" font-family="Liberation Mono" font-size="9.01" font-weight="normal" font-style="normal" fill="#111" stroke="#111" stroke-width="0.08" textLength="54.5" lengthAdjust="spacingAndGlyphs">AMP-174514-6</text>
<rect x="462.5" y="670.5" width="145.0" height="22.0" stroke="#000" stroke-width="1.1" fill="none"/>
<line x1="462.4" y1="681.5" x2="607.48" y2="681.5" stroke="#000" stroke-width="1.0"/>
<line x1="473.5" y1="670.3" x2="473.5" y2="692.4" stroke="#000" stroke-width="1.0"/>
<line x1="484.5" y1="670.3" x2="484.5" y2="692.4" stroke="#000" stroke-width="1.0"/>
<line x1="495.5" y1="670.3" x2="495.5" y2="692.4" stroke="#000" stroke-width="1.0"/>
<line x1="507.5" y1="670.3" x2="507.5" y2="692.4" stroke="#000" stroke-width="1.0"/>
<line x1="518.5" y1="670.3" x2="518.5" y2="692.4" stroke="#000" stroke-width="1.0"/>
<line x1="529.5" y1="670.3" x2="529.5" y2="692.4" stroke="#000" stroke-width="1.0"/>
<line x1="540.5" y1="670.3" x2="540.5" y2="692.4" stroke="#000" stroke-width="1.0"/>
<line x1="551.5" y1="670.3" x2="551.5" y2="692.4" stroke="#000" stroke-width="1.0"/>
<line x1="562.5" y1="670.3" x2="562.5" y2="692.4" stroke="#000" stroke-width="1.0"/>
<line x1="574.5" y1="670.3" x2="574.5" y2="692.4" stroke="#000" stroke-width="1.0"/>
<line x1="585.5" y1="670.3" x2="585.5" y2="692.4" stroke="#000" stroke-width="1.0"/>
<line x1="596.5" y1="670.3" x2="596.5" y2="692.4" stroke="#000" stroke-width="1.0"/>
<rect x="517.5" y="661.5" width="34.0" height="9.0" stroke="#000" stroke-width="1.0" fill="none"/>
<line x1="518.0" y1="670.0" x2="550.8000000000001" y2="662.0999999999999" stroke="#000" stroke-width="0.8"/>
<text x="524.7" y="647.8" font-family="Liberation Mono" font-size="9.74" font-weight="normal" font-style="normal" fill="#111" stroke="#111" stroke-width="0.08" textLength="22.3" lengthAdjust="spacingAndGlyphs">SMC-A</text>
<text x="468.2" y="678.8" font-family="Liberation Sans" font-size="8.28" font-weight="normal" font-style="normal" fill="#000" stroke="#000" stroke-width="0.12" textLength="2.4" lengthAdjust="spacingAndGlyphs">1</text>
<text x="464.4" y="689.8" font-family="Liberation Sans" font-size="8.28" font-weight="normal" font-style="normal" fill="#000" stroke="#000" stroke-width="0.12" textLength="6.6" lengthAdjust="spacingAndGlyphs">14</text>
<text x="597.6" y="678.8" font-family="Liberation Sans" font-size="8.28" font-weight="normal" font-style="normal" fill="#000" stroke="#000" stroke-width="0.12" textLength="7.4" lengthAdjust="spacingAndGlyphs">13</text>
<text x="597.6" y="689.8" font-family="Liberation Sans" font-size="8.28" font-weight="normal" font-style="normal" fill="#000" stroke="#000" stroke-width="0.12" textLength="7.4" lengthAdjust="spacingAndGlyphs">26</text>
<text x="509.2" y="710.1" font-family="Liberation Mono" font-size="9.59" font-weight="normal" font-style="normal" fill="#111" stroke="#111" stroke-width="0.08" textLength="54.8" lengthAdjust="spacingAndGlyphs">AMP-174516-6</text>
<text x="775.7" y="409.8" font-family="Liberation Sans" font-size="8.28" font-weight="normal" font-style="normal" fill="#111" stroke="#111" stroke-width="0.22" textLength="14.8" lengthAdjust="spacingAndGlyphs">FIG 1</text>
<line x1="774.9" y1="411.5" x2="792" y2="411.5" stroke="#000" stroke-width="0.8"/>
<line x1="774.9" y1="413.5" x2="792" y2="413.5" stroke="#000" stroke-width="0.8"/>
<path d="M804.5,476 Q804.5,469.2 811,469.2 L902,469.2" stroke="#000" stroke-width="1.2" fill="none" stroke-linejoin="round" />
<line x1="804.5" y1="476" x2="804.5" y2="566.4" stroke="#000" stroke-width="1.2"/>
<path d="M804.5,532.8 Q804.5,537.6 810.2,537.6 L901.8,537.6" stroke="#000" stroke-width="1.2" fill="none" stroke-linejoin="round" />
<path d="M804.5,566.4 Q804.5,571.5 810.2,571.5 L901.8,571.5" stroke="#000" stroke-width="1.2" fill="none" stroke-linejoin="round" />
<line x1="797.6" y1="503.5" x2="901.8" y2="503.5" stroke="#000" stroke-width="1.2"/>
<circle cx="788.6" cy="503.4" r="4.2" stroke="#000" stroke-width="1.1" fill="none"/>
<circle cx="788.6" cy="503.4" r="1.3" stroke="#000" stroke-width="0.9" fill="none"/>
<rect x="792.5" y="501.5" width="5.0" height="4.0" stroke="#000" stroke-width="1.0" fill="none"/>
<text x="776.6" y="515" font-family="Liberation Sans" font-size="7.12" font-weight="normal" font-style="normal" fill="#111" stroke="#111" stroke-width="0.22" textLength="24.6" lengthAdjust="spacingAndGlyphs">CAB FLOOR</text>
<line x1="854" y1="469.2" x2="906.9" y2="417" stroke="#000" stroke-width="1.0"/>
<line x1="857.2" y1="447.5" x2="940.7" y2="447.5" stroke="#000" stroke-width="1.0"/>
<ellipse cx="915.1" cy="415.3" rx="7.6" ry="4.6" stroke="#000" stroke-width="1.0" fill="none"/>
<text x="911" y="417.6" font-family="Liberation Sans" font-size="7.12" font-weight="normal" font-style="italic" fill="#111" stroke="#111" stroke-width="0.22" textLength="8.6" lengthAdjust="spacingAndGlyphs">500</text>
<text x="925.1" y="417" font-family="Liberation Sans" font-size="6.83" font-weight="normal" font-style="normal" fill="#111" stroke="#111" stroke-width="0.22" textLength="28.4" lengthAdjust="spacingAndGlyphs">ALTERNATOR</text>
<text x="903.1" y="403.6" font-family="Liberation Sans" font-size="6.40" font-weight="normal" font-style="normal" fill="#111" stroke="#111" stroke-width="0.22" textLength="26.7" lengthAdjust="spacingAndGlyphs">FUEL GAUGE</text>
<path d="M929.8,405.5 H900.3 L891.6,419.4 L901.4,421.6" stroke="#000" stroke-width="0.9" fill="none" stroke-linejoin="round" />
<text x="842" y="422.7" font-family="Liberation Sans" font-size="6.83" font-weight="normal" font-style="normal" fill="#111" stroke="#111" stroke-width="0.22" textLength="27.8" lengthAdjust="spacingAndGlyphs">GLOW RELAY</text>
<path d="M871.5,420 L875,420.4 L894.9,428.2" stroke="#000" stroke-width="0.9" fill="none" stroke-linejoin="round" />
<text x="838.7" y="433" font-family="Liberation Sans" font-size="7.41" font-weight="normal" font-style="normal" fill="#111" stroke="#111" stroke-width="0.22" textLength="34.3" lengthAdjust="spacingAndGlyphs">BATTERY RELAY</text>
<path d="M875.3,430.3 L888.9,435.3" stroke="#000" stroke-width="0.9" fill="none" stroke-linejoin="round" />
<text x="897.1" y="441" font-family="Liberation Sans" font-size="6.10" font-weight="normal" font-style="normal" fill="#111" stroke="#111" stroke-width="0.22" textLength="20.7" lengthAdjust="spacingAndGlyphs">ENGINE OIL</text>
<text x="897.1" y="445.8" font-family="Liberation Sans" font-size="5.52" font-weight="normal" font-style="normal" fill="#111" stroke="#111" stroke-width="0.22" textLength="35.7" lengthAdjust="spacingAndGlyphs">PRESSURE SWITCH</text>
<path d="M897.1,445.6 L882.9,440.2" stroke="#000" stroke-width="0.9" fill="none" stroke-linejoin="round" />
<line x1="936.5" y1="436.3" x2="936.5" y2="445.6" stroke="#000" stroke-width="1.0"/>
<path d="M934.8,438.6 L936.3,436 L937.8,438.6" stroke="#000" stroke-width="0.9" fill="none" stroke-linejoin="round" />
<line x1="936.5" y1="449.4" x2="936.5" y2="458.7" stroke="#000" stroke-width="1.0"/>
<path d="M934.8,456.4 L936.3,459 L937.8,456.4" stroke="#000" stroke-width="0.9" fill="none" stroke-linejoin="round" />
<text x="940.2" y="439.1" font-family="Liberation Sans" font-size="5.23" font-weight="bold" font-style="italic" fill="#111" stroke="#111" stroke-width="0.22" textLength="11.4" lengthAdjust="spacingAndGlyphs">ENG/H</text>
<text x="940.2" y="458.2" font-family="Liberation Sans" font-size="5.67" font-weight="bold" font-style="italic" fill="#111" stroke="#111" stroke-width="0.22" textLength="11.4" lengthAdjust="spacingAndGlyphs">CAB/H</text>
<text x="831.6" y="459" font-family="Liberation Sans" font-size="6.98" font-weight="normal" font-style="normal" fill="#111" stroke="#111" stroke-width="0.22" textLength="12.6" lengthAdjust="spacingAndGlyphs">HORN</text>
<line x1="834.9" y1="460.9" x2="826.2" y2="469" stroke="#000" stroke-width="0.9"/>
<text x="809.3" y="464.6" font-family="Liberation Sans" font-size="4.22" font-weight="normal" font-style="normal" fill="#111" stroke="#111" stroke-width="0.3" textLength="2.7" lengthAdjust="spacingAndGlyphs">ø</text>
<text x="812.6" y="467.4" font-family="Liberation Sans" font-size="5.67" font-weight="normal" font-style="normal" fill="#111" stroke="#111" stroke-width="0.3" textLength="3.2" lengthAdjust="spacingAndGlyphs">3</text>
<text x="854.5" y="460.6" font-family="Liberation Sans" font-size="3.92" font-weight="normal" font-style="normal" fill="#111" stroke="#111" stroke-width="0.3" textLength="2.5" lengthAdjust="spacingAndGlyphs">ø</text>
<text x="857.6" y="462.2" font-family="Liberation Sans" font-size="5.09" font-weight="normal" font-style="normal" fill="#111" stroke="#111" stroke-width="0.3" textLength="2.9" lengthAdjust="spacingAndGlyphs">5</text>
<line x1="814.2" y1="469.6" x2="824" y2="478.3" stroke="#000" stroke-width="0.9"/>
<line x1="833.2" y1="469.6" x2="842.5" y2="478.3" stroke="#000" stroke-width="0.9"/>
<line x1="849.6" y1="469.6" x2="858.3" y2="478.3" stroke="#000" stroke-width="0.9"/>
<text x="815.3" y="483.8" font-family="Liberation Sans" font-size="7.27" font-weight="normal" font-style="normal" fill="#111" stroke="#111" stroke-width="0.22" textLength="13.6" lengthAdjust="spacingAndGlyphs">RADIO</text>
<text x="833.8" y="483.8" font-family="Liberation Sans" font-size="7.27" font-weight="normal" font-style="normal" fill="#111" stroke="#111" stroke-width="0.22" textLength="20.2" lengthAdjust="spacingAndGlyphs">MONITOR</text>
<text x="857.2" y="483.8" font-family="Liberation Sans" font-size="7.27" font-weight="normal" font-style="normal" fill="#111" stroke="#111" stroke-width="0.22" textLength="13.7" lengthAdjust="spacingAndGlyphs">WIPER</text>
<text x="902.3" y="471.8" font-family="Liberation Sans" font-size="7.27" font-weight="normal" font-style="normal" fill="#111" stroke="#111" stroke-width="0.22" textLength="47.7" lengthAdjust="spacingAndGlyphs">ACCESSORY GND LINE</text>
<text x="840.2" y="494.2" font-family="Liberation Sans" font-size="6.83" font-weight="normal" font-style="normal" fill="#111" stroke="#111" stroke-width="0.22" textLength="42.8" lengthAdjust="spacingAndGlyphs">7-SPOOL SOLENOID</text>
<line x1="847.4" y1="494.2" x2="837.8" y2="503.4" stroke="#000" stroke-width="0.9"/>
<text x="817.4" y="499.2" font-family="Liberation Sans" font-size="3.92" font-weight="normal" font-style="normal" fill="#111" stroke="#111" stroke-width="0.3" textLength="2.2" lengthAdjust="spacingAndGlyphs">ø</text>
<text x="820.4" y="502.2" font-family="Liberation Sans" font-size="5.67" font-weight="normal" font-style="normal" fill="#111" stroke="#111" stroke-width="0.3" textLength="9.0" lengthAdjust="spacingAndGlyphs">1.25</text>
<text x="834.2" y="520.2" font-family="Liberation Sans" font-size="7.12" font-weight="normal" font-style="normal" fill="#111" stroke="#111" stroke-width="0.22" textLength="18.0" lengthAdjust="spacingAndGlyphs">ANGLE</text>
<text x="834.2" y="527" font-family="Liberation Sans" font-size="7.41" font-weight="normal" font-style="normal" fill="#111" stroke="#111" stroke-width="0.22" textLength="18.0" lengthAdjust="spacingAndGlyphs">SENSOR</text>
<text x="859.7" y="526.5" font-family="Liberation Sans" font-size="5.81" font-weight="normal" font-style="normal" fill="#444" stroke="#444" stroke-width="0.1" textLength="15.3" lengthAdjust="spacingAndGlyphs">R/SEN</text>
<line x1="843.8" y1="528" x2="834.8" y2="537.3" stroke="#000" stroke-width="0.9"/>
<line x1="867.8" y1="528" x2="858.8" y2="537.3" stroke="#000" stroke-width="0.9"/>
<text x="816.8" y="532.8" font-family="Liberation Sans" font-size="3.92" font-weight="normal" font-style="normal" fill="#111" stroke="#111" stroke-width="0.3" textLength="2.2" lengthAdjust="spacingAndGlyphs">ø</text>
<text x="819.8" y="535.8" font-family="Liberation Sans" font-size="5.67" font-weight="normal" font-style="normal" fill="#111" stroke="#111" stroke-width="0.3" textLength="8.4" lengthAdjust="spacingAndGlyphs">1.25</text>
<text x="842" y="559.8" font-family="Liberation Sans" font-size="7.12" font-weight="normal" font-style="normal" fill="#111" stroke="#111" stroke-width="0.22" textLength="22.8" lengthAdjust="spacingAndGlyphs">EC MOTOR</text>
<line x1="849.8" y1="562.5" x2="840.8" y2="571.2" stroke="#000" stroke-width="0.9"/>
<text x="816.8" y="566.6" font-family="Liberation Sans" font-size="3.92" font-weight="normal" font-style="normal" fill="#111" stroke="#111" stroke-width="0.3" textLength="2.2" lengthAdjust="spacingAndGlyphs">ø</text>
<text x="819.8" y="570" font-family="Liberation Sans" font-size="5.67" font-weight="normal" font-style="normal" fill="#111" stroke="#111" stroke-width="0.3" textLength="8.4" lengthAdjust="spacingAndGlyphs">1.25</text>
<path d="M894.90,428.40 L892.36,428.74 L892.76,426.99 Z" fill="#000"/>
<path d="M888.90,435.30 L886.34,435.19 L887.05,433.53 Z" fill="#000"/>
<path d="M901.40,421.80 L898.86,422.18 L899.24,420.42 Z" fill="#000"/>
<path d="M882.90,440.20 L885.46,440.20 L884.83,441.88 Z" fill="#000"/>
<path d="M826.40,469.00 L827.48,466.68 L828.74,467.96 Z" fill="#000"/>
<path d="M814.20,469.80 L816.58,470.75 L815.37,472.08 Z" fill="#000"/>
<path d="M833.20,469.80 L835.58,470.75 L834.37,472.08 Z" fill="#000"/>
<path d="M849.60,469.80 L851.98,470.75 L850.77,472.08 Z" fill="#000"/>
<path d="M837.80,503.20 L838.98,500.92 L840.18,502.26 Z" fill="#000"/>
<path d="M834.80,537.20 L835.86,534.87 L837.13,536.14 Z" fill="#000"/>
<path d="M858.80,537.20 L859.86,534.87 L861.13,536.14 Z" fill="#000"/>
<path d="M840.80,571.20 L841.86,568.87 L843.13,570.14 Z" fill="#000"/>
<ellipse cx="896.5" cy="508.5" rx="7.6" ry="4.4" stroke="#000" stroke-width="1.0" fill="none"/>
<text x="892.6" y="510.7" font-family="Liberation Sans" font-size="7.41" font-weight="normal" font-style="italic" fill="#2a2a2a" textLength="6.8" lengthAdjust="spacingAndGlyphs">76</text>
<text x="908.2" y="505.0" font-family="Liberation Sans" font-size="7.41" font-weight="normal" font-style="normal" fill="#111" stroke="#111" stroke-width="0.22" textLength="29.0" lengthAdjust="spacingAndGlyphs">EFCT POWER</text>
<text x="908.2" y="511.0" font-family="Liberation Sans" font-size="7.41" font-weight="normal" font-style="normal" fill="#111" stroke="#111" stroke-width="0.22" textLength="29.0" lengthAdjust="spacingAndGlyphs">GROUND LINE</text>
<text x="957" y="503.8" font-family="Liberation Sans" font-size="5.67" font-weight="bold" font-style="normal" fill="#111" stroke="#111" stroke-width="0.22" textLength="6.0" lengthAdjust="spacingAndGlyphs">COL</text>
<text x="952.2" y="511.0" font-family="Liberation Sans" font-size="7.41" font-weight="bold" font-style="italic" fill="#111" stroke="#111" stroke-width="0.22" textLength="10.2" lengthAdjust="spacingAndGlyphs">B_B</text>
<rect x="951" y="512.6" width="5.6" height="1.4" stroke="#000" stroke-width="0.4" fill="#000"/>
<ellipse cx="896.5" cy="543" rx="7.6" ry="4.4" stroke="#000" stroke-width="1.0" fill="none"/>
<text x="893.6" y="545.2" font-family="Liberation Sans" font-size="7.41" font-weight="normal" font-style="italic" fill="#2a2a2a" textLength="6.6" lengthAdjust="spacingAndGlyphs">74</text>
<text x="908.2" y="539.5" font-family="Liberation Sans" font-size="7.41" font-weight="normal" font-style="normal" fill="#111" stroke="#111" stroke-width="0.22" textLength="29.0" lengthAdjust="spacingAndGlyphs">EFCT CONT.</text>
<text x="908.2" y="545.5" font-family="Liberation Sans" font-size="7.41" font-weight="normal" font-style="normal" fill="#111" stroke="#111" stroke-width="0.22" textLength="29.0" lengthAdjust="spacingAndGlyphs">GROUND LINE</text>
<text x="957" y="538.3000000000001" font-family="Liberation Sans" font-size="5.67" font-weight="bold" font-style="normal" fill="#111" stroke="#111" stroke-width="0.22" textLength="6.0" lengthAdjust="spacingAndGlyphs">COL</text>
<text x="952.2" y="545.5" font-family="Liberation Sans" font-size="7.41" font-weight="bold" font-style="italic" fill="#111" stroke="#111" stroke-width="0.22" textLength="10.2" lengthAdjust="spacingAndGlyphs">C_B</text>
<rect x="951" y="547.1" width="5.6" height="1.4" stroke="#000" stroke-width="0.4" fill="#000"/>
<ellipse cx="896.5" cy="577.8" rx="7.6" ry="4.4" stroke="#000" stroke-width="1.0" fill="none"/>
<text x="892.2" y="580.0" font-family="Liberation Sans" font-size="7.41" font-weight="normal" font-style="italic" fill="#111" stroke="#111" stroke-width="0.22" textLength="9.2" lengthAdjust="spacingAndGlyphs">219</text>
<text x="908.2" y="574.3" font-family="Liberation Sans" font-size="7.41" font-weight="normal" font-style="normal" fill="#111" stroke="#111" stroke-width="0.22" textLength="20.6" lengthAdjust="spacingAndGlyphs">SMC POW</text>
<text x="908.2" y="580.3" font-family="Liberation Sans" font-size="7.41" font-weight="normal" font-style="normal" fill="#111" stroke="#111" stroke-width="0.22" textLength="29.0" lengthAdjust="spacingAndGlyphs">GROUND LINE</text>
<text x="957" y="573.1" font-family="Liberation Sans" font-size="5.67" font-weight="bold" font-style="normal" fill="#111" stroke="#111" stroke-width="0.22" textLength="6.0" lengthAdjust="spacingAndGlyphs">COL</text>
<text x="952.2" y="580.3" font-family="Liberation Sans" font-size="7.41" font-weight="bold" font-style="italic" fill="#111" stroke="#111" stroke-width="0.22" textLength="10.2" lengthAdjust="spacingAndGlyphs">D_B</text>
<rect x="951" y="581.9" width="5.6" height="1.4" stroke="#000" stroke-width="0.4" fill="#000"/>
<text x="957" y="465.8" font-family="Liberation Sans" font-size="5.23" font-weight="bold" font-style="normal" fill="#111" stroke="#111" stroke-width="0.22" textLength="6.0" lengthAdjust="spacingAndGlyphs">COL</text>
<text x="952.1" y="472.9" font-family="Liberation Sans" font-size="7.56" font-weight="bold" font-style="italic" fill="#111" stroke="#111" stroke-width="0.22" textLength="9.9" lengthAdjust="spacingAndGlyphs">A_B</text>
<rect x="951" y="474" width="5.6" height="1.4" stroke="#000" stroke-width="0.4" fill="#000"/>
<text x="1038.7" y="381.1" font-family="Liberation Sans" font-size="8.58" font-weight="normal" font-style="normal" fill="#111" stroke="#111" stroke-width="0.22" textLength="15.5" lengthAdjust="spacingAndGlyphs">FIG 2</text>
<line x1="1038" y1="383.5" x2="1055" y2="383.5" stroke="#000" stroke-width="1.3"/>
<path d="M1085.3,444.7 L1103.9,412.6 Q1106.5,407.2 1110.3,407.2 L1147.6,407.2 L1147.6,448.4" stroke="#000" stroke-width="1.1" fill="none" stroke-linejoin="round" />
<line x1="1094.3" y1="450.5" x2="1146.4" y2="450.5" stroke="#000" stroke-width="1.1"/>
<line x1="1086.2" y1="470.5" x2="1189" y2="470.5" stroke="#000" stroke-width="1.1"/>
<text x="1135.3" y="432.8" font-family="Liberation Sans" font-size="5.96" font-weight="normal" font-style="normal" fill="#2a2a2a" textLength="6.9" lengthAdjust="spacingAndGlyphs">M6</text>
<text x="1161.7" y="432.5" font-family="Liberation Sans" font-size="7.70" font-weight="normal" font-style="normal" fill="#111" stroke="#111" stroke-width="0.22" textLength="25.1" lengthAdjust="spacingAndGlyphs">CAB COVER</text>
<text x="1121.3" y="447.5" font-family="Liberation Sans" font-size="5.67" font-weight="normal" font-style="normal" fill="#111" stroke="#111" stroke-width="0.22" textLength="9.6" lengthAdjust="spacingAndGlyphs">M10</text>
<text x="1159.2" y="453.4" font-family="Liberation Sans" font-size="7.56" font-weight="normal" font-style="normal" fill="#111" stroke="#111" stroke-width="0.22" textLength="24.4" lengthAdjust="spacingAndGlyphs">CAB FLOOR</text>
<text x="1121.3" y="469.8" font-family="Liberation Sans" font-size="5.81" font-weight="normal" font-style="normal" fill="#111" stroke="#111" stroke-width="0.22" textLength="9.6" lengthAdjust="spacingAndGlyphs">M10</text>
<text x="1174" y="467.8" font-family="Liberation Sans" font-size="6.69" font-weight="normal" font-style="normal" fill="#111" stroke="#111" stroke-width="0.22" textLength="15.4" lengthAdjust="spacingAndGlyphs">FLAME</text>
<path d="M1146,431 Q1143,434.5 1140,434.8 Q1137.5,436 1139.5,439.5 L1147.6,448.4 Q1151,453.5 1152.4,458.5 Q1152.5,463 1148.5,465 Q1143,468 1137.4,469.2" stroke="#000" stroke-width="1.3" fill="none" stroke-linejoin="round" />
<path d="M1133.1,447.8 Q1136,446 1139.2,446.4 Q1144,447.4 1145.8,451 Q1147.2,456.5 1145.5,461 Q1142.5,466 1138,467.9 L1135,468.9" stroke="#000" stroke-width="1.5" fill="none" stroke-linejoin="round" />
<line x1="1152" y1="458.5" x2="1158.4" y2="462" stroke="#000" stroke-width="0.9"/>
<circle cx="1139.2" cy="456.9" r="3.3" stroke="#000" stroke-width="0.9" fill="none"/>
<circle cx="1161" cy="462.5" r="3.4" stroke="#000" stroke-width="1.0" fill="none"/>
<path d="M1148,430.9 Q1150,429.2 1151.3,430 Q1153,434 1154.2,433.4 Q1156,432 1157.3,430" stroke="#000" stroke-width="0.9" fill="none" stroke-linejoin="round" />
<path d="M1145.2,441.2 Q1148,440.2 1150,441.6 Q1152.5,443.4 1156.7,440.4" stroke="#000" stroke-width="0.9" fill="none" stroke-linejoin="round" />
<line x1="1151.3" y1="453.6" x2="1157" y2="451.1" stroke="#000" stroke-width="0.8"/>
<path d="M1171.2,470.3 Q1170.8,467 1172.7,465" stroke="#000" stroke-width="0.9" fill="none" stroke-linejoin="round" />
<text x="1162.6" y="437.6" font-family="Liberation Sans" font-size="4.80" font-weight="normal" font-style="normal" fill="#777" textLength="2.4" lengthAdjust="spacingAndGlyphs">5</text>
</svg>
</body></html>
